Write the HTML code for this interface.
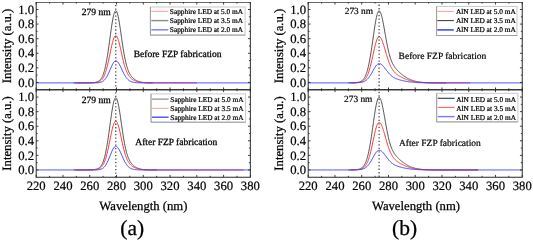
<!DOCTYPE html>
<html><head><meta charset="utf-8"><title>Spectra</title><style>html,body{margin:0;padding:0;background:#fff;width:533px;height:242px;overflow:hidden}svg{display:block;position:absolute;left:0;top:0;will-change:transform}</style></head>
<body>
<svg xmlns="http://www.w3.org/2000/svg" width="533" height="242" viewBox="0 0 533 242" text-rendering="geometricPrecision" font-family="Liberation Serif" fill="#000">
<rect width="533" height="242" fill="#fff"/>
<defs><filter id="bl" x="0" y="0" width="1" height="1"><feGaussianBlur stdDeviation="0.35"/></filter></defs>
<g filter="url(#bl)">
<polyline points="73.68,82.89 74.01,82.89 74.35,82.89 74.68,82.89 75.01,82.89 75.35,82.89 75.68,82.89 76.02,82.89 76.35,82.89 76.69,82.89 77.02,82.89 77.36,82.89 77.69,82.89 78.03,82.89 78.36,82.89 78.70,82.89 79.03,82.89 79.36,82.89 79.70,82.89 80.03,82.89 80.37,82.89 80.70,82.89 81.04,82.89 81.37,82.89 81.71,82.89 82.04,82.88 82.38,82.88 82.71,82.88 83.05,82.88 83.38,82.88 83.71,82.88 84.05,82.88 84.38,82.87 84.72,82.87 85.05,82.87 85.39,82.87 85.72,82.86 86.06,82.86 86.39,82.86 86.73,82.85 87.06,82.85 87.40,82.84 87.73,82.84 88.06,82.83 88.40,82.82 88.73,82.82 89.07,82.81 89.40,82.80 89.74,82.79 90.07,82.78 90.41,82.77 90.74,82.75 91.08,82.74 91.41,82.72 91.75,82.70 92.08,82.68 92.41,82.66 92.75,82.64 93.08,82.61 93.42,82.58 93.75,82.55 94.09,82.51 94.42,82.47 94.76,82.42 95.09,82.37 95.43,82.31 95.76,82.24 96.10,82.16 96.43,82.08 96.76,81.98 97.10,81.88 97.43,81.75 97.77,81.61 98.10,81.46 98.44,81.28 98.77,81.08 99.11,80.85 99.44,80.60 99.78,80.31 100.11,79.99 100.44,79.63 100.78,79.22 101.11,78.77 101.45,78.26 101.78,77.70 102.12,77.08 102.45,76.39 102.79,75.63 103.12,74.79 103.46,73.87 103.79,72.87 104.13,71.78 104.46,70.60 104.79,69.32 105.13,67.94 105.46,66.47 105.80,64.89 106.13,63.21 106.47,61.43 106.80,59.56 107.14,57.59 107.47,55.52 107.81,53.38 108.14,51.16 108.48,48.87 108.81,46.52 109.14,44.13 109.48,41.70 109.81,39.25 110.15,36.80 110.48,34.36 110.82,31.95 111.15,29.58 111.49,27.28 111.82,25.06 112.16,22.94 112.49,20.94 112.83,19.08 113.16,17.36 113.49,15.81 113.83,14.45 114.16,13.28 114.50,12.31 114.83,11.56 115.17,11.04 115.50,10.74 115.84,10.67 116.17,10.83 116.51,11.23 116.84,11.87 117.18,12.72 117.51,13.79 117.84,15.06 118.18,16.51 118.51,18.14 118.85,19.92 119.18,21.84 119.52,23.88 119.85,26.02 120.19,28.23 120.52,30.50 120.86,32.81 121.19,35.14 121.53,37.47 121.86,39.79 122.19,42.08 122.53,44.33 122.86,46.53 123.20,48.66 123.53,50.72 123.87,52.70 124.20,54.60 124.54,56.41 124.87,58.13 125.21,59.75 125.54,61.29 125.88,62.73 126.21,64.08 126.54,65.34 126.88,66.52 127.21,67.62 127.55,68.65 127.88,69.60 128.22,70.49 128.55,71.31 128.89,72.07 129.22,72.78 129.56,73.44 129.89,74.05 130.23,74.62 130.56,75.15 130.89,75.64 131.23,76.10 131.56,76.53 131.90,76.93 132.23,77.31 132.57,77.67 132.90,78.00 133.24,78.31 133.57,78.61 133.91,78.89 134.24,79.15 134.58,79.39 134.91,79.63 135.24,79.85 135.58,80.05 135.91,80.25 136.25,80.43 136.58,80.60 136.92,80.77 137.25,80.92 137.59,81.06 137.92,81.20 138.26,81.32 138.59,81.44 138.93,81.55 139.26,81.66 139.59,81.76 139.93,81.85 140.26,81.93 140.60,82.01 140.93,82.08 141.27,82.15 141.60,82.21 141.94,82.27 142.27,82.33 142.61,82.38 142.94,82.42 143.27,82.46 143.61,82.50 143.94,82.54 144.28,82.57 144.61,82.60 144.95,82.63 145.28,82.66 145.62,82.68 145.95,82.70 146.29,82.72 146.62,82.74 146.96,82.75 147.29,82.77 147.62,82.78 147.96,82.79 148.29,82.80 148.63,82.81 148.96,82.82 149.30,82.83 149.63,82.83 149.97,82.84 150.30,82.85 150.64,82.85 150.97,82.86 151.31,82.86 151.64,82.86 151.97,82.87 152.31,82.87 152.64,82.87" fill="none" stroke="#484848" stroke-width="0.95" stroke-linejoin="round"/>
<polyline points="76.35,82.89 76.69,82.89 77.02,82.89 77.36,82.89 77.69,82.89 78.03,82.89 78.36,82.89 78.70,82.89 79.03,82.89 79.36,82.89 79.70,82.89 80.03,82.89 80.37,82.89 80.70,82.89 81.04,82.89 81.37,82.89 81.71,82.89 82.04,82.89 82.38,82.89 82.71,82.89 83.05,82.89 83.38,82.88 83.71,82.88 84.05,82.88 84.38,82.88 84.72,82.88 85.05,82.88 85.39,82.88 85.72,82.88 86.06,82.87 86.39,82.87 86.73,82.87 87.06,82.87 87.40,82.86 87.73,82.86 88.06,82.86 88.40,82.85 88.73,82.85 89.07,82.84 89.40,82.84 89.74,82.83 90.07,82.82 90.41,82.82 90.74,82.81 91.08,82.80 91.41,82.79 91.75,82.78 92.08,82.77 92.41,82.75 92.75,82.74 93.08,82.72 93.42,82.71 93.75,82.69 94.09,82.66 94.42,82.64 94.76,82.61 95.09,82.58 95.43,82.54 95.76,82.50 96.10,82.46 96.43,82.41 96.76,82.35 97.10,82.28 97.43,82.21 97.77,82.13 98.10,82.03 98.44,81.92 98.77,81.80 99.11,81.66 99.44,81.51 99.78,81.33 100.11,81.13 100.44,80.91 100.78,80.66 101.11,80.38 101.45,80.06 101.78,79.71 102.12,79.32 102.45,78.89 102.79,78.41 103.12,77.88 103.46,77.29 103.79,76.66 104.13,75.96 104.46,75.21 104.79,74.39 105.13,73.50 105.46,72.55 105.80,71.53 106.13,70.44 106.47,69.29 106.80,68.07 107.14,66.78 107.47,65.44 107.81,64.04 108.14,62.58 108.48,61.08 108.81,59.53 109.14,57.95 109.48,56.35 109.81,54.73 110.15,53.11 110.48,51.49 110.82,49.89 111.15,48.32 111.49,46.79 111.82,45.31 112.16,43.90 112.49,42.56 112.83,41.32 113.16,40.17 113.49,39.14 113.83,38.22 114.16,37.44 114.50,36.79 114.83,36.29 115.17,35.94 115.50,35.74 115.84,35.69 116.17,35.80 116.51,36.06 116.84,36.47 117.18,37.03 117.51,37.73 117.84,38.56 118.18,39.51 118.51,40.58 118.85,41.74 119.18,43.00 119.52,44.33 119.85,45.72 120.19,47.17 120.52,48.65 120.86,50.16 121.19,51.68 121.53,53.21 121.86,54.72 122.19,56.22 122.53,57.69 122.86,59.13 123.20,60.52 123.53,61.87 123.87,63.16 124.20,64.40 124.54,65.58 124.87,66.71 125.21,67.77 125.54,68.77 125.88,69.71 126.21,70.60 126.54,71.42 126.88,72.19 127.21,72.91 127.55,73.58 127.88,74.21 128.22,74.78 128.55,75.32 128.89,75.82 129.22,76.28 129.56,76.71 129.89,77.11 130.23,77.48 130.56,77.83 130.89,78.15 131.23,78.45 131.56,78.74 131.90,79.00 132.23,79.25 132.57,79.48 132.90,79.70 133.24,79.90 133.57,80.09 133.91,80.27 134.24,80.44 134.58,80.61 134.91,80.76 135.24,80.90 135.58,81.04 135.91,81.16 136.25,81.28 136.58,81.40 136.92,81.50 137.25,81.60 137.59,81.70 137.92,81.78 138.26,81.87 138.59,81.95 138.93,82.02 139.26,82.09 139.59,82.15 139.93,82.21 140.26,82.26 140.60,82.32 140.93,82.36 141.27,82.41 141.60,82.45 141.94,82.49 142.27,82.52 142.61,82.55 142.94,82.58 143.27,82.61 143.61,82.64 143.94,82.66 144.28,82.68 144.61,82.70 144.95,82.72 145.28,82.74 145.62,82.75 145.95,82.77 146.29,82.78 146.62,82.79 146.96,82.80 147.29,82.81 147.62,82.82 147.96,82.83 148.29,82.83 148.63,82.84 148.96,82.84 149.30,82.85 149.63,82.85 149.97,82.86 150.30,82.86 150.64,82.87 150.97,82.87 151.31,82.87 151.64,82.87 151.97,82.88 152.31,82.88 152.64,82.88 152.98,82.88 153.31,82.88 153.65,82.88 153.98,82.88 154.32,82.89 154.65,82.89 154.99,82.89 155.32,82.89 155.66,82.89 155.99,82.89 156.32,82.89 156.66,82.89 156.99,82.89 157.33,82.89 157.66,82.89 158.00,82.89 158.33,82.89 158.67,82.89 159.00,82.89 159.34,82.89 159.67,82.89 160.01,82.89 160.34,82.89 160.67,82.89 161.01,82.89 161.34,82.89 161.68,82.89 162.01,82.89 162.35,82.89 162.68,82.89 163.02,82.89 163.35,82.89 163.69,82.89 164.02,82.89 164.36,82.89 164.69,82.89 165.02,82.89 165.36,82.89 165.69,82.89 166.03,82.89 166.36,82.89 166.70,82.89 167.03,82.89 167.37,82.89 167.70,82.89 168.04,82.89 168.37,82.89 168.71,82.89 169.04,82.89 169.37,82.89 169.71,82.89 170.04,82.89 170.38,82.89 170.71,82.89 171.05,82.89 171.38,82.89 171.72,82.89 172.05,82.89 172.39,82.89 172.72,82.89 173.06,82.89 173.39,82.89 173.72,82.89 174.06,82.89 174.39,82.89 174.73,82.89 175.06,82.89 175.40,82.89 175.73,82.89 176.07,82.89 176.40,82.89 176.74,82.89 177.07,82.89 177.41,82.89 177.74,82.89 178.07,82.89 178.41,82.89 178.74,82.89 179.08,82.89 179.41,82.89 179.75,82.89 180.08,82.89 180.42,82.89 180.75,82.89 181.09,82.89 181.42,82.89 181.76,82.89 182.09,82.89 182.42,82.89 182.76,82.89 183.09,82.89 183.43,82.89 183.76,82.89 184.10,82.89 184.43,82.89 184.77,82.89 185.10,82.89 185.44,82.89 185.77,82.89 186.10,82.89 186.44,82.89 186.77,82.89 187.11,82.89 187.44,82.89 187.78,82.89 188.11,82.89 188.45,82.89 188.78,82.89 189.12,82.89 189.45,82.89 189.79,82.89 190.12,82.89 190.45,82.89 190.79,82.89 191.12,82.89 191.46,82.89 191.79,82.89 192.13,82.89 192.46,82.89 192.80,82.89 193.13,82.89 193.47,82.89 193.80,82.89 194.14,82.89 194.47,82.89 194.80,82.89 195.14,82.89 195.47,82.89 195.81,82.89 196.14,82.89 196.48,82.89 196.81,82.89" fill="none" stroke="#ff3030" stroke-width="1.0" stroke-linejoin="round"/>
<polyline points="36.20,82.89 36.53,82.89 36.87,82.89 37.20,82.89 37.54,82.89 37.87,82.89 38.21,82.89 38.54,82.89 38.88,82.89 39.21,82.89 39.55,82.89 39.88,82.89 40.22,82.89 40.55,82.89 40.88,82.89 41.22,82.89 41.55,82.89 41.89,82.89 42.22,82.89 42.56,82.89 42.89,82.89 43.23,82.89 43.56,82.89 43.90,82.89 44.23,82.89 44.57,82.89 44.90,82.89 45.23,82.89 45.57,82.89 45.90,82.89 46.24,82.89 46.57,82.89 46.91,82.89 47.24,82.89 47.58,82.89 47.91,82.89 48.25,82.89 48.58,82.89 48.92,82.89 49.25,82.89 49.58,82.89 49.92,82.89 50.25,82.89 50.59,82.89 50.92,82.89 51.26,82.89 51.59,82.89 51.93,82.89 52.26,82.89 52.60,82.89 52.93,82.89 53.27,82.89 53.60,82.89 53.93,82.89 54.27,82.89 54.60,82.89 54.94,82.89 55.27,82.89 55.61,82.89 55.94,82.89 56.28,82.89 56.61,82.89 56.95,82.89 57.28,82.89 57.62,82.89 57.95,82.89 58.28,82.89 58.62,82.89 58.95,82.89 59.29,82.89 59.62,82.89 59.96,82.89 60.29,82.89 60.63,82.89 60.96,82.89 61.30,82.89 61.63,82.89 61.96,82.89 62.30,82.89 62.63,82.89 62.97,82.89 63.30,82.89 63.64,82.89 63.97,82.89 64.31,82.89 64.64,82.89 64.98,82.89 65.31,82.89 65.65,82.89 65.98,82.89 66.31,82.89 66.65,82.89 66.98,82.89 67.32,82.89 67.65,82.89 67.99,82.89 68.32,82.89 68.66,82.89 68.99,82.89 69.33,82.89 69.66,82.89 70.00,82.89 70.33,82.89 70.66,82.89 71.00,82.89 71.33,82.89 71.67,82.89 72.00,82.89 72.34,82.89 72.67,82.89 73.01,82.89 73.34,82.89 73.68,82.89 74.01,82.89 74.35,82.89 74.68,82.89 75.01,82.89 75.35,82.89 75.68,82.89 76.02,82.89 76.35,82.89 76.69,82.89 77.02,82.89 77.36,82.89 77.69,82.89 78.03,82.89 78.36,82.89 78.70,82.89 79.03,82.89 79.36,82.89 79.70,82.89 80.03,82.89 80.37,82.89 80.70,82.89 81.04,82.89 81.37,82.89 81.71,82.89 82.04,82.89 82.38,82.89 82.71,82.89 83.05,82.89 83.38,82.89 83.71,82.89 84.05,82.89 84.38,82.89 84.72,82.89 85.05,82.89 85.39,82.89 85.72,82.89 86.06,82.89 86.39,82.89 86.73,82.89 87.06,82.89 87.40,82.89 87.73,82.89 88.06,82.89 88.40,82.89 88.73,82.89 89.07,82.89 89.40,82.89 89.74,82.89 90.07,82.89 90.41,82.89 90.74,82.89 91.08,82.89 91.41,82.89 91.75,82.89 92.08,82.89 92.41,82.89 92.75,82.89 93.08,82.89 93.42,82.88 93.75,82.88 94.09,82.88 94.42,82.88 94.76,82.87 95.09,82.87 95.43,82.86 95.76,82.85 96.10,82.84 96.43,82.83 96.76,82.82 97.10,82.80 97.43,82.78 97.77,82.76 98.10,82.73 98.44,82.70 98.77,82.66 99.11,82.62 99.44,82.56 99.78,82.50 100.11,82.43 100.44,82.35 100.78,82.26 101.11,82.15 101.45,82.03 101.78,81.89 102.12,81.73 102.45,81.55 102.79,81.35 103.12,81.13 103.46,80.88 103.79,80.61 104.13,80.30 104.46,79.97 104.79,79.61 105.13,79.21 105.46,78.78 105.80,78.32 106.13,77.82 106.47,77.29 106.80,76.72 107.14,76.12 107.47,75.49 107.81,74.83 108.14,74.14 108.48,73.42 108.81,72.68 109.14,71.93 109.48,71.15 109.81,70.37 110.15,69.58 110.48,68.80 110.82,68.02 111.15,67.25 111.49,66.50 111.82,65.77 112.16,65.07 112.49,64.41 112.83,63.80 113.16,63.23 113.49,62.72 113.83,62.26 114.16,61.88 114.50,61.55 114.83,61.30 115.17,61.13 115.50,61.03 115.84,61.01 116.17,61.05 116.51,61.16 116.84,61.33 117.18,61.57 117.51,61.86 117.84,62.22 118.18,62.62 118.51,63.08 118.85,63.58 119.18,64.13 119.52,64.71 119.85,65.33 120.19,65.97 120.52,66.64 120.86,67.32 121.19,68.02 121.53,68.73 121.86,69.44 122.19,70.15 122.53,70.86 122.86,71.56 123.20,72.24 123.53,72.91 123.87,73.57 124.20,74.20 124.54,74.81 124.87,75.40 125.21,75.96 125.54,76.49 125.88,77.00 126.21,77.48 126.54,77.93 126.88,78.35 127.21,78.74 127.55,79.11 127.88,79.45 128.22,79.77 128.55,80.06 128.89,80.33 129.22,80.57 129.56,80.80 129.89,81.00 130.23,81.19 130.56,81.36 130.89,81.51 131.23,81.65 131.56,81.78 131.90,81.89 132.23,81.99 132.57,82.08 132.90,82.17 133.24,82.24 133.57,82.31 133.91,82.36 134.24,82.42 134.58,82.47 134.91,82.51 135.24,82.55 135.58,82.58 135.91,82.61 136.25,82.64 136.58,82.66 136.92,82.68 137.25,82.70 137.59,82.72 137.92,82.74 138.26,82.75 138.59,82.77 138.93,82.78 139.26,82.79 139.59,82.80 139.93,82.81 140.26,82.82 140.60,82.82 140.93,82.83 141.27,82.84 141.60,82.84 141.94,82.85 142.27,82.85 142.61,82.85 142.94,82.86 143.27,82.86 143.61,82.87 143.94,82.87 144.28,82.87 144.61,82.87 144.95,82.87 145.28,82.88 145.62,82.88 145.95,82.88 146.29,82.88 146.62,82.88 146.96,82.88 147.29,82.88 147.62,82.89 147.96,82.89 148.29,82.89 148.63,82.89 148.96,82.89 149.30,82.89 149.63,82.89 149.97,82.89 150.30,82.89 150.64,82.89 150.97,82.89 151.31,82.89 151.64,82.89 151.97,82.89 152.31,82.89 152.64,82.89 152.98,82.89 153.31,82.89 153.65,82.89 153.98,82.89 154.32,82.89 154.65,82.89 154.99,82.89 155.32,82.89 155.66,82.89 155.99,82.89 156.32,82.89 156.66,82.89 156.99,82.89 157.33,82.89 157.66,82.89 158.00,82.89 158.33,82.89 158.67,82.89 159.00,82.89 159.34,82.89 159.67,82.89 160.01,82.89 160.34,82.89 160.67,82.89 161.01,82.89 161.34,82.89 161.68,82.89 162.01,82.89 162.35,82.89 162.68,82.89 163.02,82.89 163.35,82.89 163.69,82.89 164.02,82.89 164.36,82.89 164.69,82.89 165.02,82.89 165.36,82.89 165.69,82.89 166.03,82.89 166.36,82.89 166.70,82.89 167.03,82.89 167.37,82.89 167.70,82.89 168.04,82.89 168.37,82.89 168.71,82.89 169.04,82.89 169.37,82.89 169.71,82.89 170.04,82.89 170.38,82.89 170.71,82.89 171.05,82.89 171.38,82.89 171.72,82.89 172.05,82.89 172.39,82.89 172.72,82.89 173.06,82.89 173.39,82.89 173.72,82.89 174.06,82.89 174.39,82.89 174.73,82.89 175.06,82.89 175.40,82.89 175.73,82.89 176.07,82.89 176.40,82.89 176.74,82.89 177.07,82.89 177.41,82.89 177.74,82.89 178.07,82.89 178.41,82.89 178.74,82.89 179.08,82.89 179.41,82.89 179.75,82.89 180.08,82.89 180.42,82.89 180.75,82.89 181.09,82.89 181.42,82.89 181.76,82.89 182.09,82.89 182.42,82.89 182.76,82.89 183.09,82.89 183.43,82.89 183.76,82.89 184.10,82.89 184.43,82.89 184.77,82.89 185.10,82.89 185.44,82.89 185.77,82.89 186.10,82.89 186.44,82.89 186.77,82.89 187.11,82.89 187.44,82.89 187.78,82.89 188.11,82.89 188.45,82.89 188.78,82.89 189.12,82.89 189.45,82.89 189.79,82.89 190.12,82.89 190.45,82.89 190.79,82.89 191.12,82.89 191.46,82.89 191.79,82.89 192.13,82.89 192.46,82.89 192.80,82.89 193.13,82.89 193.47,82.89 193.80,82.89 194.14,82.89 194.47,82.89 194.80,82.89 195.14,82.89 195.47,82.89 195.81,82.89 196.14,82.89 196.48,82.89 196.81,82.89 197.15,82.89 197.48,82.89 197.82,82.89 198.15,82.89 198.49,82.89 198.82,82.89 199.15,82.89 199.49,82.89 199.82,82.89 200.16,82.89 200.49,82.89 200.83,82.89 201.16,82.89 201.50,82.89 201.83,82.89 202.17,82.89 202.50,82.89 202.84,82.89 203.17,82.89 203.50,82.89 203.84,82.89 204.17,82.89 204.51,82.89 204.84,82.89 205.18,82.89 205.51,82.89 205.85,82.89 206.18,82.89 206.52,82.89 206.85,82.89 207.19,82.89 207.52,82.89 207.85,82.89 208.19,82.89 208.52,82.89 208.86,82.89 209.19,82.89 209.53,82.89 209.86,82.89 210.20,82.89 210.53,82.89 210.87,82.89 211.20,82.89 211.54,82.89 211.87,82.89 212.20,82.89 212.54,82.89 212.87,82.89 213.21,82.89 213.54,82.89 213.88,82.89 214.21,82.89 214.55,82.89 214.88,82.89 215.22,82.89 215.55,82.89 215.89,82.89 216.22,82.89 216.55,82.89 216.89,82.89 217.22,82.89 217.56,82.89 217.89,82.89 218.23,82.89 218.56,82.89 218.90,82.89 219.23,82.89 219.57,82.89 219.90,82.89 220.24,82.89 220.57,82.89 220.90,82.89 221.24,82.89 221.57,82.89 221.91,82.89 222.24,82.89 222.58,82.89 222.91,82.89 223.25,82.89 223.58,82.89 223.92,82.89 224.25,82.89 224.59,82.89 224.92,82.89 225.25,82.89 225.59,82.89 225.92,82.89 226.26,82.89 226.59,82.89 226.93,82.89 227.26,82.89 227.60,82.89 227.93,82.89 228.27,82.89 228.60,82.89 228.94,82.89 229.27,82.89 229.60,82.89 229.94,82.89 230.27,82.89 230.61,82.89 230.94,82.89 231.28,82.89 231.61,82.89 231.95,82.89 232.28,82.89 232.62,82.89 232.95,82.89 233.28,82.89 233.62,82.89 233.95,82.89 234.29,82.89 234.62,82.89 234.96,82.89 235.29,82.89 235.63,82.89 235.96,82.89 236.30,82.89 236.63,82.89 236.97,82.89 237.30,82.89 237.63,82.89 237.97,82.89 238.30,82.89 238.64,82.89 238.97,82.89 239.31,82.89 239.64,82.89 239.98,82.89 240.31,82.89 240.65,82.89 240.98,82.89 241.32,82.89 241.65,82.89 241.98,82.89 242.32,82.89 242.65,82.89 242.99,82.89 243.32,82.89 243.66,82.89 243.99,82.89 244.33,82.89 244.66,82.89 245.00,82.89 245.33,82.89 245.67,82.89 246.00,82.89 246.33,82.89 246.67,82.89 247.00,82.89 247.34,82.89 247.67,82.89 248.01,82.89 248.34,82.89 248.68,82.89 249.01,82.89 249.35,82.89 249.68,82.89 250.02,82.89 250.35,82.89" fill="none" stroke="#3434ff" stroke-width="1.0" stroke-linejoin="round"/>
<line x1="115.77" y1="2.20" x2="115.77" y2="177.25" stroke="#505050" stroke-width="1.35" stroke-dasharray="1.3 2.19" stroke-dashoffset="0.75"/>
<rect x="36.2" y="2.2" width="214.15" height="87.55" fill="none" stroke="#2a2a2a" stroke-width="1.0"/>
<text x="34.00" y="86.60" font-size="12.7" text-anchor="end" stroke="#000" stroke-width="0.2">0.0</text>
<text x="34.00" y="72.01" font-size="12.7" text-anchor="end" stroke="#000" stroke-width="0.2">0.2</text>
<text x="34.00" y="57.42" font-size="12.7" text-anchor="end" stroke="#000" stroke-width="0.2">0.4</text>
<text x="34.00" y="42.83" font-size="12.7" text-anchor="end" stroke="#000" stroke-width="0.2">0.6</text>
<text x="34.00" y="28.24" font-size="12.7" text-anchor="end" stroke="#000" stroke-width="0.2">0.8</text>
<text x="34.00" y="13.65" font-size="12.7" text-anchor="end" stroke="#000" stroke-width="0.2">1.0</text>
<path d="M36.20,82.45h2.3M250.35,82.45h-2.3M36.20,75.16h1.4M250.35,75.16h-1.4M36.20,67.86h2.3M250.35,67.86h-2.3M36.20,60.57h1.4M250.35,60.57h-1.4M36.20,53.27h2.3M250.35,53.27h-2.3M36.20,45.98h1.4M250.35,45.98h-1.4M36.20,38.68h2.3M250.35,38.68h-2.3M36.20,31.38h1.4M250.35,31.38h-1.4M36.20,24.09h2.3M250.35,24.09h-2.3M36.20,16.79h1.4M250.35,16.79h-1.4M36.20,9.50h2.3M250.35,9.50h-2.3M36.20,89.75v-2.3M36.20,2.20v2.3M49.58,89.75v-1.4M49.58,2.20v1.4M62.97,89.75v-2.3M62.97,2.20v2.3M76.35,89.75v-1.4M76.35,2.20v1.4M89.74,89.75v-2.3M89.74,2.20v2.3M103.12,89.75v-1.4M103.12,2.20v1.4M116.51,89.75v-2.3M116.51,2.20v2.3M129.89,89.75v-1.4M129.89,2.20v1.4M143.27,89.75v-2.3M143.27,2.20v2.3M156.66,89.75v-1.4M156.66,2.20v1.4M170.04,89.75v-2.3M170.04,2.20v2.3M183.43,89.75v-1.4M183.43,2.20v1.4M196.81,89.75v-2.3M196.81,2.20v2.3M210.20,89.75v-1.4M210.20,2.20v1.4M223.58,89.75v-2.3M223.58,2.20v2.3M236.97,89.75v-1.4M236.97,2.20v1.4M250.35,89.75v-2.3M250.35,2.20v2.3" stroke="#2a2a2a" stroke-width="0.9" fill="none"/>
<text x="81.70" y="15.00" font-size="9.6" stroke="#000" stroke-width="0.28">279 nm</text>
<rect x="150.4" y="7.0" width="94.70" height="28.10" fill="#fff" stroke="#c4c4c4" stroke-width="0.9"/>
<path d="M150.4,7.0V35.1H245.1" fill="none" stroke="#999" stroke-width="0.9"/>
<line x1="151.30" y1="11.30" x2="168.30" y2="11.30" stroke="#ff9999" stroke-width="1.0"/>
<text x="169.80" y="13.80" font-size="7.35" stroke="#000" stroke-width="0.22">Sapphire LED at 5.0 mA</text>
<line x1="151.30" y1="20.60" x2="168.30" y2="20.60" stroke="#8c8c8c" stroke-width="1.4"/>
<text x="169.80" y="23.10" font-size="7.35" stroke="#000" stroke-width="0.22">Sapphire LED at 3.5 mA</text>
<line x1="151.30" y1="29.80" x2="168.30" y2="29.80" stroke="#8080ff" stroke-width="1.5"/>
<text x="169.80" y="32.30" font-size="7.35" stroke="#000" stroke-width="0.22">Sapphire LED at 2.0 mA</text>
<text x="133.70" y="56.60" font-size="9.5" stroke="#000" stroke-width="0.28">Before FZP fabrication</text>
<text transform="translate(11.10,45.98) rotate(-90)" x="0" y="0" font-size="12.7" text-anchor="middle" stroke="#000" stroke-width="0.25">Intensity (a.u.)</text>
<polyline points="73.68,169.96 74.01,169.96 74.35,169.96 74.68,169.96 75.01,169.96 75.35,169.96 75.68,169.96 76.02,169.96 76.35,169.96 76.69,169.96 77.02,169.96 77.36,169.96 77.69,169.96 78.03,169.96 78.36,169.96 78.70,169.96 79.03,169.96 79.36,169.96 79.70,169.96 80.03,169.95 80.37,169.95 80.70,169.95 81.04,169.95 81.37,169.95 81.71,169.95 82.04,169.95 82.38,169.95 82.71,169.95 83.05,169.95 83.38,169.95 83.71,169.94 84.05,169.94 84.38,169.94 84.72,169.94 85.05,169.94 85.39,169.93 85.72,169.93 86.06,169.93 86.39,169.92 86.73,169.92 87.06,169.91 87.40,169.91 87.73,169.90 88.06,169.90 88.40,169.89 88.73,169.88 89.07,169.87 89.40,169.87 89.74,169.86 90.07,169.84 90.41,169.83 90.74,169.82 91.08,169.80 91.41,169.79 91.75,169.77 92.08,169.75 92.41,169.73 92.75,169.70 93.08,169.68 93.42,169.65 93.75,169.61 94.09,169.57 94.42,169.53 94.76,169.49 95.09,169.43 95.43,169.37 95.76,169.31 96.10,169.23 96.43,169.15 96.76,169.05 97.10,168.94 97.43,168.82 97.77,168.68 98.10,168.53 98.44,168.35 98.77,168.15 99.11,167.92 99.44,167.67 99.78,167.38 100.11,167.06 100.44,166.70 100.78,166.29 101.11,165.84 101.45,165.33 101.78,164.77 102.12,164.15 102.45,163.46 102.79,162.70 103.12,161.86 103.46,160.94 103.79,159.94 104.13,158.85 104.46,157.67 104.79,156.39 105.13,155.02 105.46,153.54 105.80,151.97 106.13,150.29 106.47,148.51 106.80,146.64 107.14,144.67 107.47,142.61 107.81,140.46 108.14,138.24 108.48,135.95 108.81,133.61 109.14,131.22 109.48,128.79 109.81,126.35 110.15,123.90 110.48,121.46 110.82,119.05 111.15,116.68 111.49,114.38 111.82,112.16 112.16,110.04 112.49,108.04 112.83,106.18 113.16,104.46 113.49,102.92 113.83,101.55 114.16,100.38 114.50,99.42 114.83,98.67 115.17,98.14 115.50,97.84 115.84,97.78 116.17,97.94 116.51,98.34 116.84,98.97 117.18,99.83 117.51,100.89 117.84,102.16 118.18,103.62 118.51,105.25 118.85,107.03 119.18,108.95 119.52,110.98 119.85,113.11 120.19,115.32 120.52,117.59 120.86,119.90 121.19,122.23 121.53,124.56 121.86,126.88 122.19,129.17 122.53,131.42 122.86,133.61 123.20,135.75 123.53,137.81 123.87,139.79 124.20,141.68 124.54,143.49 124.87,145.21 125.21,146.83 125.54,148.36 125.88,149.80 126.21,151.16 126.54,152.42 126.88,153.60 127.21,154.70 127.55,155.72 127.88,156.67 128.22,157.56 128.55,158.38 128.89,159.14 129.22,159.85 129.56,160.51 129.89,161.12 130.23,161.69 130.56,162.22 130.89,162.71 131.23,163.17 131.56,163.60 131.90,164.00 132.23,164.38 132.57,164.74 132.90,165.07 133.24,165.38 133.57,165.68 133.91,165.95 134.24,166.22 134.58,166.46 134.91,166.69 135.24,166.91 135.58,167.12 135.91,167.31 136.25,167.50 136.58,167.67 136.92,167.83 137.25,167.99 137.59,168.13 137.92,168.27 138.26,168.39 138.59,168.51 138.93,168.62 139.26,168.73 139.59,168.82 139.93,168.91 140.26,169.00 140.60,169.08 140.93,169.15 141.27,169.22 141.60,169.28 141.94,169.34 142.27,169.39 142.61,169.44 142.94,169.49 143.27,169.53 143.61,169.57 143.94,169.61 144.28,169.64 144.61,169.67 144.95,169.70 145.28,169.72 145.62,169.74 145.95,169.77 146.29,169.79 146.62,169.80 146.96,169.82 147.29,169.83 147.62,169.85 147.96,169.86 148.29,169.87 148.63,169.88 148.96,169.89 149.30,169.89 149.63,169.90 149.97,169.91 150.30,169.91 150.64,169.92 150.97,169.92 151.31,169.93 151.64,169.93 151.97,169.93 152.31,169.94 152.64,169.94 152.98,169.94 153.31,169.94 153.65,169.95 153.98,169.95 154.32,169.95 154.65,169.95 154.99,169.95 155.32,169.95 155.66,169.95 155.99,169.95 156.32,169.95 156.66,169.95" fill="none" stroke="#484848" stroke-width="0.95" stroke-linejoin="round"/>
<polyline points="76.35,169.96 76.69,169.96 77.02,169.96 77.36,169.96 77.69,169.96 78.03,169.96 78.36,169.96 78.70,169.96 79.03,169.96 79.36,169.96 79.70,169.96 80.03,169.96 80.37,169.96 80.70,169.96 81.04,169.96 81.37,169.95 81.71,169.95 82.04,169.95 82.38,169.95 82.71,169.95 83.05,169.95 83.38,169.95 83.71,169.95 84.05,169.95 84.38,169.95 84.72,169.95 85.05,169.94 85.39,169.94 85.72,169.94 86.06,169.94 86.39,169.94 86.73,169.93 87.06,169.93 87.40,169.93 87.73,169.92 88.06,169.92 88.40,169.92 88.73,169.91 89.07,169.91 89.40,169.90 89.74,169.90 90.07,169.89 90.41,169.88 90.74,169.87 91.08,169.86 91.41,169.85 91.75,169.84 92.08,169.83 92.41,169.82 92.75,169.80 93.08,169.78 93.42,169.77 93.75,169.74 94.09,169.72 94.42,169.70 94.76,169.67 95.09,169.63 95.43,169.60 95.76,169.56 96.10,169.51 96.43,169.46 96.76,169.40 97.10,169.33 97.43,169.25 97.77,169.17 98.10,169.07 98.44,168.96 98.77,168.83 99.11,168.69 99.44,168.53 99.78,168.34 100.11,168.14 100.44,167.91 100.78,167.65 101.11,167.36 101.45,167.03 101.78,166.67 102.12,166.26 102.45,165.81 102.79,165.31 103.12,164.77 103.46,164.17 103.79,163.51 104.13,162.79 104.46,162.00 104.79,161.15 105.13,160.24 105.46,159.25 105.80,158.20 106.13,157.08 106.47,155.88 106.80,154.62 107.14,153.29 107.47,151.90 107.81,150.44 108.14,148.94 108.48,147.38 108.81,145.78 109.14,144.15 109.48,142.49 109.81,140.82 110.15,139.14 110.48,137.46 110.82,135.80 111.15,134.18 111.49,132.59 111.82,131.06 112.16,129.60 112.49,128.22 112.83,126.93 113.16,125.74 113.49,124.67 113.83,123.73 114.16,122.92 114.50,122.25 114.83,121.73 115.17,121.36 115.50,121.16 115.84,121.11 116.17,121.22 116.51,121.49 116.84,121.92 117.18,122.50 117.51,123.22 117.84,124.08 118.18,125.06 118.51,126.16 118.85,127.37 119.18,128.67 119.52,130.04 119.85,131.49 120.19,132.98 120.52,134.52 120.86,136.08 121.19,137.66 121.53,139.23 121.86,140.80 122.19,142.35 122.53,143.88 122.86,145.36 123.20,146.80 123.53,148.20 123.87,149.54 124.20,150.82 124.54,152.05 124.87,153.21 125.21,154.31 125.54,155.34 125.88,156.32 126.21,157.23 126.54,158.09 126.88,158.89 127.21,159.63 127.55,160.32 127.88,160.97 128.22,161.57 128.55,162.12 128.89,162.64 129.22,163.12 129.56,163.56 129.89,163.98 130.23,164.36 130.56,164.72 130.89,165.05 131.23,165.36 131.56,165.66 131.90,165.93 132.23,166.18 132.57,166.42 132.90,166.65 133.24,166.86 133.57,167.06 133.91,167.25 134.24,167.43 134.58,167.59 134.91,167.75 135.24,167.90 135.58,168.04 135.91,168.17 136.25,168.29 136.58,168.41 136.92,168.52 137.25,168.62 137.59,168.72 137.92,168.81 138.26,168.90 138.59,168.98 138.93,169.05 139.26,169.12 139.59,169.19 139.93,169.25 140.26,169.31 140.60,169.36 140.93,169.41 141.27,169.46 141.60,169.50 141.94,169.54 142.27,169.58 142.61,169.61 142.94,169.64 143.27,169.67 143.61,169.70 143.94,169.72 144.28,169.74 144.61,169.76 144.95,169.78 145.28,169.80 145.62,169.81 145.95,169.83 146.29,169.84 146.62,169.85 146.96,169.86 147.29,169.87 147.62,169.88 147.96,169.89 148.29,169.90 148.63,169.90 148.96,169.91 149.30,169.92 149.63,169.92 149.97,169.92 150.30,169.93 150.64,169.93 150.97,169.93 151.31,169.94 151.64,169.94 151.97,169.94 152.31,169.94 152.64,169.95 152.98,169.95 153.31,169.95 153.65,169.95 153.98,169.95 154.32,169.95 154.65,169.95 154.99,169.95 155.32,169.95 155.66,169.95 155.99,169.95 156.32,169.96 156.66,169.96 156.99,169.96 157.33,169.96 157.66,169.96 158.00,169.96 158.33,169.96 158.67,169.96 159.00,169.96 159.34,169.96 159.67,169.96 160.01,169.96 160.34,169.96 160.67,169.96 161.01,169.96 161.34,169.96 161.68,169.96 162.01,169.96 162.35,169.96 162.68,169.96 163.02,169.96 163.35,169.96 163.69,169.96 164.02,169.96 164.36,169.96 164.69,169.96 165.02,169.96 165.36,169.96 165.69,169.96 166.03,169.96 166.36,169.96 166.70,169.96 167.03,169.96 167.37,169.96 167.70,169.96 168.04,169.96 168.37,169.96 168.71,169.96 169.04,169.96 169.37,169.96 169.71,169.96 170.04,169.96 170.38,169.96 170.71,169.96 171.05,169.96 171.38,169.96 171.72,169.96 172.05,169.96 172.39,169.96 172.72,169.96 173.06,169.96 173.39,169.96 173.72,169.96 174.06,169.96 174.39,169.96 174.73,169.96 175.06,169.96 175.40,169.96 175.73,169.96 176.07,169.96 176.40,169.96 176.74,169.96 177.07,169.96 177.41,169.96 177.74,169.96 178.07,169.96 178.41,169.96 178.74,169.96 179.08,169.96 179.41,169.96 179.75,169.96 180.08,169.96 180.42,169.96 180.75,169.96 181.09,169.96 181.42,169.96 181.76,169.96 182.09,169.96 182.42,169.96 182.76,169.96 183.09,169.96 183.43,169.96 183.76,169.96 184.10,169.96 184.43,169.96 184.77,169.96 185.10,169.96 185.44,169.96 185.77,169.96 186.10,169.96 186.44,169.96 186.77,169.96 187.11,169.96 187.44,169.96 187.78,169.96 188.11,169.96 188.45,169.96 188.78,169.96 189.12,169.96 189.45,169.96 189.79,169.96 190.12,169.96 190.45,169.96 190.79,169.96 191.12,169.96 191.46,169.96 191.79,169.96 192.13,169.96 192.46,169.96 192.80,169.96 193.13,169.96 193.47,169.96 193.80,169.96 194.14,169.96 194.47,169.96 194.80,169.96 195.14,169.96 195.47,169.96 195.81,169.96 196.14,169.96 196.48,169.96 196.81,169.96 197.15,169.96 197.48,169.96 197.82,169.96 198.15,169.96 198.49,169.96 198.82,169.96 199.15,169.96 199.49,169.96 199.82,169.96 200.16,169.96 200.49,169.96 200.83,169.96 201.16,169.96 201.50,169.96 201.83,169.96 202.17,169.96 202.50,169.96 202.84,169.96 203.17,169.96 203.50,169.96 203.84,169.96 204.17,169.96 204.51,169.96 204.84,169.96 205.18,169.96 205.51,169.96 205.85,169.96 206.18,169.96 206.52,169.96 206.85,169.96 207.19,169.96 207.52,169.96 207.85,169.96 208.19,169.96 208.52,169.96 208.86,169.96 209.19,169.96 209.53,169.96 209.86,169.96 210.20,169.96 210.53,169.96 210.87,169.96 211.20,169.96 211.54,169.96 211.87,169.96 212.20,169.96 212.54,169.96 212.87,169.96 213.21,169.96 213.54,169.96 213.88,169.96 214.21,169.96 214.55,169.96 214.88,169.96 215.22,169.96 215.55,169.96 215.89,169.96 216.22,169.96 216.55,169.96 216.89,169.96 217.22,169.96 217.56,169.96 217.89,169.96 218.23,169.96 218.56,169.96 218.90,169.96 219.23,169.96 219.57,169.96 219.90,169.96 220.24,169.96 220.57,169.96 220.90,169.96 221.24,169.96 221.57,169.96 221.91,169.96 222.24,169.96 222.58,169.96 222.91,169.96 223.25,169.96 223.58,169.96 223.92,169.96 224.25,169.96 224.59,169.96 224.92,169.96 225.25,169.96 225.59,169.96 225.92,169.96 226.26,169.96 226.59,169.96 226.93,169.96 227.26,169.96 227.60,169.96 227.93,169.96 228.27,169.96 228.60,169.96 228.94,169.96 229.27,169.96 229.60,169.96 229.94,169.96 230.27,169.96 230.61,169.96 230.94,169.96 231.28,169.96 231.61,169.96 231.95,169.96 232.28,169.96 232.62,169.96 232.95,169.96 233.28,169.96 233.62,169.96 233.95,169.96 234.29,169.96 234.62,169.96 234.96,169.96 235.29,169.96 235.63,169.96 235.96,169.96 236.30,169.96 236.63,169.96 236.97,169.96 237.30,169.96 237.63,169.96 237.97,169.96 238.30,169.96 238.64,169.96 238.97,169.96 239.31,169.96 239.64,169.96 239.98,169.96 240.31,169.96 240.65,169.96 240.98,169.96 241.32,169.96 241.65,169.96 241.98,169.96 242.32,169.96 242.65,169.96 242.99,169.96 243.32,169.96 243.66,169.96" fill="none" stroke="#ff3030" stroke-width="1.0" stroke-linejoin="round"/>
<polyline points="36.20,169.96 36.53,169.96 36.87,169.96 37.20,169.96 37.54,169.96 37.87,169.96 38.21,169.96 38.54,169.96 38.88,169.96 39.21,169.96 39.55,169.96 39.88,169.96 40.22,169.96 40.55,169.96 40.88,169.96 41.22,169.96 41.55,169.96 41.89,169.96 42.22,169.96 42.56,169.96 42.89,169.96 43.23,169.96 43.56,169.96 43.90,169.96 44.23,169.96 44.57,169.96 44.90,169.96 45.23,169.96 45.57,169.96 45.90,169.96 46.24,169.96 46.57,169.96 46.91,169.96 47.24,169.96 47.58,169.96 47.91,169.96 48.25,169.96 48.58,169.96 48.92,169.96 49.25,169.96 49.58,169.96 49.92,169.96 50.25,169.96 50.59,169.96 50.92,169.96 51.26,169.96 51.59,169.96 51.93,169.96 52.26,169.96 52.60,169.96 52.93,169.96 53.27,169.96 53.60,169.96 53.93,169.96 54.27,169.96 54.60,169.96 54.94,169.96 55.27,169.96 55.61,169.96 55.94,169.96 56.28,169.96 56.61,169.96 56.95,169.96 57.28,169.96 57.62,169.96 57.95,169.96 58.28,169.96 58.62,169.96 58.95,169.96 59.29,169.96 59.62,169.96 59.96,169.96 60.29,169.96 60.63,169.96 60.96,169.96 61.30,169.96 61.63,169.96 61.96,169.96 62.30,169.96 62.63,169.96 62.97,169.96 63.30,169.96 63.64,169.96 63.97,169.96 64.31,169.96 64.64,169.96 64.98,169.96 65.31,169.96 65.65,169.96 65.98,169.96 66.31,169.96 66.65,169.96 66.98,169.96 67.32,169.96 67.65,169.96 67.99,169.96 68.32,169.96 68.66,169.96 68.99,169.96 69.33,169.96 69.66,169.96 70.00,169.96 70.33,169.96 70.66,169.96 71.00,169.96 71.33,169.96 71.67,169.96 72.00,169.96 72.34,169.96 72.67,169.96 73.01,169.96 73.34,169.96 73.68,169.96 74.01,169.96 74.35,169.96 74.68,169.96 75.01,169.96 75.35,169.96 75.68,169.96 76.02,169.96 76.35,169.96 76.69,169.96 77.02,169.96 77.36,169.96 77.69,169.96 78.03,169.96 78.36,169.96 78.70,169.96 79.03,169.96 79.36,169.96 79.70,169.96 80.03,169.96 80.37,169.96 80.70,169.96 81.04,169.96 81.37,169.96 81.71,169.96 82.04,169.96 82.38,169.96 82.71,169.96 83.05,169.96 83.38,169.96 83.71,169.96 84.05,169.96 84.38,169.96 84.72,169.96 85.05,169.96 85.39,169.96 85.72,169.96 86.06,169.96 86.39,169.96 86.73,169.96 87.06,169.96 87.40,169.96 87.73,169.96 88.06,169.96 88.40,169.96 88.73,169.96 89.07,169.96 89.40,169.96 89.74,169.96 90.07,169.96 90.41,169.96 90.74,169.96 91.08,169.96 91.41,169.96 91.75,169.96 92.08,169.95 92.41,169.95 92.75,169.95 93.08,169.95 93.42,169.95 93.75,169.95 94.09,169.94 94.42,169.94 94.76,169.94 95.09,169.93 95.43,169.92 95.76,169.92 96.10,169.91 96.43,169.89 96.76,169.88 97.10,169.86 97.43,169.84 97.77,169.81 98.10,169.79 98.44,169.75 98.77,169.71 99.11,169.66 99.44,169.60 99.78,169.54 100.11,169.46 100.44,169.37 100.78,169.27 101.11,169.16 101.45,169.02 101.78,168.87 102.12,168.70 102.45,168.51 102.79,168.30 103.12,168.06 103.46,167.79 103.79,167.49 104.13,167.17 104.46,166.81 104.79,166.41 105.13,165.99 105.46,165.52 105.80,165.02 106.13,164.48 106.47,163.91 106.80,163.30 107.14,162.65 107.47,161.97 107.81,161.26 108.14,160.51 108.48,159.74 108.81,158.94 109.14,158.12 109.48,157.29 109.81,156.45 110.15,155.60 110.48,154.75 110.82,153.90 111.15,153.07 111.49,152.26 111.82,151.48 112.16,150.72 112.49,150.01 112.83,149.35 113.16,148.74 113.49,148.18 113.83,147.69 114.16,147.27 114.50,146.93 114.83,146.66 115.17,146.47 115.50,146.36 115.84,146.33 116.17,146.38 116.51,146.50 116.84,146.69 117.18,146.94 117.51,147.26 117.84,147.64 118.18,148.08 118.51,148.57 118.85,149.12 119.18,149.70 119.52,150.33 119.85,151.00 120.19,151.69 120.52,152.41 120.86,153.15 121.19,153.91 121.53,154.67 121.86,155.44 122.19,156.21 122.53,156.97 122.86,157.72 123.20,158.46 123.53,159.19 123.87,159.89 124.20,160.58 124.54,161.24 124.87,161.87 125.21,162.47 125.54,163.05 125.88,163.60 126.21,164.11 126.54,164.60 126.88,165.05 127.21,165.48 127.55,165.88 127.88,166.25 128.22,166.59 128.55,166.90 128.89,167.19 129.22,167.46 129.56,167.70 129.89,167.92 130.23,168.12 130.56,168.30 130.89,168.47 131.23,168.62 131.56,168.76 131.90,168.88 132.23,168.99 132.57,169.09 132.90,169.17 133.24,169.25 133.57,169.33 133.91,169.39 134.24,169.45 134.58,169.50 134.91,169.54 135.24,169.58 135.58,169.62 135.91,169.65 136.25,169.68 136.58,169.71 136.92,169.73 137.25,169.76 137.59,169.78 137.92,169.79 138.26,169.81 138.59,169.82 138.93,169.84 139.26,169.85 139.59,169.86 139.93,169.87 140.26,169.88 140.60,169.88 140.93,169.89 141.27,169.90 141.60,169.90 141.94,169.91 142.27,169.91 142.61,169.92 142.94,169.92 143.27,169.93 143.61,169.93 143.94,169.93 144.28,169.94 144.61,169.94 144.95,169.94 145.28,169.94 145.62,169.94 145.95,169.95 146.29,169.95 146.62,169.95 146.96,169.95 147.29,169.95 147.62,169.95 147.96,169.95 148.29,169.95 148.63,169.95 148.96,169.95 149.30,169.95 149.63,169.95 149.97,169.96 150.30,169.96 150.64,169.96 150.97,169.96 151.31,169.96 151.64,169.96 151.97,169.96 152.31,169.96 152.64,169.96 152.98,169.96 153.31,169.96 153.65,169.96 153.98,169.96 154.32,169.96 154.65,169.96 154.99,169.96 155.32,169.96 155.66,169.96 155.99,169.96 156.32,169.96 156.66,169.96 156.99,169.96 157.33,169.96 157.66,169.96 158.00,169.96 158.33,169.96 158.67,169.96 159.00,169.96 159.34,169.96 159.67,169.96 160.01,169.96 160.34,169.96 160.67,169.96 161.01,169.96 161.34,169.96 161.68,169.96 162.01,169.96 162.35,169.96 162.68,169.96 163.02,169.96 163.35,169.96 163.69,169.96 164.02,169.96 164.36,169.96 164.69,169.96 165.02,169.96 165.36,169.96 165.69,169.96 166.03,169.96 166.36,169.96 166.70,169.96 167.03,169.96 167.37,169.96 167.70,169.96 168.04,169.96 168.37,169.96 168.71,169.96 169.04,169.96 169.37,169.96 169.71,169.96 170.04,169.96 170.38,169.96 170.71,169.96 171.05,169.96 171.38,169.96 171.72,169.96 172.05,169.96 172.39,169.96 172.72,169.96 173.06,169.96 173.39,169.96 173.72,169.96 174.06,169.96 174.39,169.96 174.73,169.96 175.06,169.96 175.40,169.96 175.73,169.96 176.07,169.96 176.40,169.96 176.74,169.96 177.07,169.96 177.41,169.96 177.74,169.96 178.07,169.96 178.41,169.96 178.74,169.96 179.08,169.96 179.41,169.96 179.75,169.96 180.08,169.96 180.42,169.96 180.75,169.96 181.09,169.96 181.42,169.96 181.76,169.96 182.09,169.96 182.42,169.96 182.76,169.96 183.09,169.96 183.43,169.96 183.76,169.96 184.10,169.96 184.43,169.96 184.77,169.96 185.10,169.96 185.44,169.96 185.77,169.96 186.10,169.96 186.44,169.96 186.77,169.96 187.11,169.96 187.44,169.96 187.78,169.96 188.11,169.96 188.45,169.96 188.78,169.96 189.12,169.96 189.45,169.96 189.79,169.96 190.12,169.96 190.45,169.96 190.79,169.96 191.12,169.96 191.46,169.96 191.79,169.96 192.13,169.96 192.46,169.96 192.80,169.96 193.13,169.96 193.47,169.96 193.80,169.96 194.14,169.96 194.47,169.96 194.80,169.96 195.14,169.96 195.47,169.96 195.81,169.96 196.14,169.96 196.48,169.96 196.81,169.96 197.15,169.96 197.48,169.96 197.82,169.96 198.15,169.96 198.49,169.96 198.82,169.96 199.15,169.96 199.49,169.96 199.82,169.96 200.16,169.96 200.49,169.96 200.83,169.96 201.16,169.96 201.50,169.96 201.83,169.96 202.17,169.96 202.50,169.96 202.84,169.96 203.17,169.96 203.50,169.96 203.84,169.96 204.17,169.96 204.51,169.96 204.84,169.96 205.18,169.96 205.51,169.96 205.85,169.96 206.18,169.96 206.52,169.96 206.85,169.96 207.19,169.96 207.52,169.96 207.85,169.96 208.19,169.96 208.52,169.96 208.86,169.96 209.19,169.96 209.53,169.96 209.86,169.96 210.20,169.96 210.53,169.96 210.87,169.96 211.20,169.96 211.54,169.96 211.87,169.96 212.20,169.96 212.54,169.96 212.87,169.96 213.21,169.96 213.54,169.96 213.88,169.96 214.21,169.96 214.55,169.96 214.88,169.96 215.22,169.96 215.55,169.96 215.89,169.96 216.22,169.96 216.55,169.96 216.89,169.96 217.22,169.96 217.56,169.96 217.89,169.96 218.23,169.96 218.56,169.96 218.90,169.96 219.23,169.96 219.57,169.96 219.90,169.96 220.24,169.96 220.57,169.96 220.90,169.96 221.24,169.96 221.57,169.96 221.91,169.96 222.24,169.96 222.58,169.96 222.91,169.96 223.25,169.96 223.58,169.96 223.92,169.96 224.25,169.96 224.59,169.96 224.92,169.96 225.25,169.96 225.59,169.96 225.92,169.96 226.26,169.96 226.59,169.96 226.93,169.96 227.26,169.96 227.60,169.96 227.93,169.96 228.27,169.96 228.60,169.96 228.94,169.96 229.27,169.96 229.60,169.96 229.94,169.96 230.27,169.96 230.61,169.96 230.94,169.96 231.28,169.96 231.61,169.96 231.95,169.96 232.28,169.96 232.62,169.96 232.95,169.96 233.28,169.96 233.62,169.96 233.95,169.96 234.29,169.96 234.62,169.96 234.96,169.96 235.29,169.96 235.63,169.96 235.96,169.96 236.30,169.96 236.63,169.96 236.97,169.96 237.30,169.96 237.63,169.96 237.97,169.96 238.30,169.96 238.64,169.96 238.97,169.96 239.31,169.96 239.64,169.96 239.98,169.96 240.31,169.96 240.65,169.96 240.98,169.96 241.32,169.96 241.65,169.96 241.98,169.96 242.32,169.96 242.65,169.96 242.99,169.96 243.32,169.96 243.66,169.96 243.99,169.96 244.33,169.96 244.66,169.96 245.00,169.96 245.33,169.96 245.67,169.96 246.00,169.96 246.33,169.96 246.67,169.96 247.00,169.96 247.34,169.96 247.67,169.96 248.01,169.96 248.34,169.96 248.68,169.96 249.01,169.96 249.35,169.96 249.68,169.96 250.02,169.96 250.35,169.96" fill="none" stroke="#3434ff" stroke-width="1.0" stroke-linejoin="round"/>
<rect x="36.2" y="89.75" width="214.15" height="87.50" fill="none" stroke="#2a2a2a" stroke-width="1.0"/>
<text x="34.00" y="174.11" font-size="12.7" text-anchor="end" stroke="#000" stroke-width="0.2">0.0</text>
<text x="34.00" y="159.53" font-size="12.7" text-anchor="end" stroke="#000" stroke-width="0.2">0.2</text>
<text x="34.00" y="144.94" font-size="12.7" text-anchor="end" stroke="#000" stroke-width="0.2">0.4</text>
<text x="34.00" y="130.36" font-size="12.7" text-anchor="end" stroke="#000" stroke-width="0.2">0.6</text>
<text x="34.00" y="115.78" font-size="12.7" text-anchor="end" stroke="#000" stroke-width="0.2">0.8</text>
<text x="34.00" y="101.19" font-size="12.7" text-anchor="end" stroke="#000" stroke-width="0.2">1.0</text>
<path d="M36.20,169.96h2.3M250.35,169.96h-2.3M36.20,162.67h1.4M250.35,162.67h-1.4M36.20,155.38h2.3M250.35,155.38h-2.3M36.20,148.08h1.4M250.35,148.08h-1.4M36.20,140.79h2.3M250.35,140.79h-2.3M36.20,133.50h1.4M250.35,133.50h-1.4M36.20,126.21h2.3M250.35,126.21h-2.3M36.20,118.92h1.4M250.35,118.92h-1.4M36.20,111.63h2.3M250.35,111.63h-2.3M36.20,104.33h1.4M250.35,104.33h-1.4M36.20,97.04h2.3M250.35,97.04h-2.3M36.20,177.25v-2.3M36.20,89.75v2.3M49.58,177.25v-1.4M49.58,89.75v1.4M62.97,177.25v-2.3M62.97,89.75v2.3M76.35,177.25v-1.4M76.35,89.75v1.4M89.74,177.25v-2.3M89.74,89.75v2.3M103.12,177.25v-1.4M103.12,89.75v1.4M116.51,177.25v-2.3M116.51,89.75v2.3M129.89,177.25v-1.4M129.89,89.75v1.4M143.27,177.25v-2.3M143.27,89.75v2.3M156.66,177.25v-1.4M156.66,89.75v1.4M170.04,177.25v-2.3M170.04,89.75v2.3M183.43,177.25v-1.4M183.43,89.75v1.4M196.81,177.25v-2.3M196.81,89.75v2.3M210.20,177.25v-1.4M210.20,89.75v1.4M223.58,177.25v-2.3M223.58,89.75v2.3M236.97,177.25v-1.4M236.97,89.75v1.4M250.35,177.25v-2.3M250.35,89.75v2.3" stroke="#2a2a2a" stroke-width="0.9" fill="none"/>
<text x="81.70" y="102.70" font-size="9.6" stroke="#000" stroke-width="0.28">279 nm</text>
<rect x="151.0" y="93.9" width="94.60" height="28.30" fill="#fff" stroke="#c4c4c4" stroke-width="0.9"/>
<path d="M151.0,93.9V122.2H245.6" fill="none" stroke="#999" stroke-width="0.9"/>
<line x1="152.00" y1="99.10" x2="168.60" y2="99.10" stroke="#8c8c8c" stroke-width="1.2"/>
<text x="170.30" y="101.50" font-size="7.35" stroke="#000" stroke-width="0.22">Sapphire LED at 5.0 mA</text>
<line x1="152.00" y1="108.30" x2="168.60" y2="108.30" stroke="#ff9999" stroke-width="1.0"/>
<text x="170.30" y="110.80" font-size="7.35" stroke="#000" stroke-width="0.22">Sapphire LED at 3.5 mA</text>
<line x1="152.00" y1="117.20" x2="168.60" y2="117.20" stroke="#4040ff" stroke-width="1.3"/>
<text x="170.30" y="120.10" font-size="7.35" stroke="#000" stroke-width="0.22">Sapphire LED at 2.0 mA</text>
<text x="135.30" y="145.40" font-size="9.5" stroke="#000" stroke-width="0.28">After FZP fabrication</text>
<text transform="translate(11.10,133.50) rotate(-90)" x="0" y="0" font-size="12.7" text-anchor="middle" stroke="#000" stroke-width="0.25">Intensity (a.u.)</text>
<text x="36.20" y="189.60" font-size="12.7" text-anchor="middle" stroke="#000" stroke-width="0.2">220</text>
<text x="62.97" y="189.60" font-size="12.7" text-anchor="middle" stroke="#000" stroke-width="0.2">240</text>
<text x="89.74" y="189.60" font-size="12.7" text-anchor="middle" stroke="#000" stroke-width="0.2">260</text>
<text x="116.51" y="189.60" font-size="12.7" text-anchor="middle" stroke="#000" stroke-width="0.2">280</text>
<text x="143.27" y="189.60" font-size="12.7" text-anchor="middle" stroke="#000" stroke-width="0.2">300</text>
<text x="170.04" y="189.60" font-size="12.7" text-anchor="middle" stroke="#000" stroke-width="0.2">320</text>
<text x="196.81" y="189.60" font-size="12.7" text-anchor="middle" stroke="#000" stroke-width="0.2">340</text>
<text x="223.58" y="189.60" font-size="12.7" text-anchor="middle" stroke="#000" stroke-width="0.2">360</text>
<text x="250.35" y="189.60" font-size="12.7" text-anchor="middle" stroke="#000" stroke-width="0.2">380</text>
<text x="143.40" y="210.20" font-size="12.7" text-anchor="middle" stroke="#000" stroke-width="0.25">Wavelength (nm)</text>
<text x="132.30" y="235.40" font-size="21.5" text-anchor="middle" stroke="#000" stroke-width="0.25">(a)</text>
<polyline points="348.33,82.87 348.67,82.87 349.00,82.86 349.34,82.86 349.67,82.86 350.01,82.85 350.34,82.85 350.68,82.84 351.01,82.84 351.34,82.83 351.68,82.82 352.01,82.81 352.35,82.80 352.68,82.79 353.02,82.78 353.35,82.77 353.69,82.75 354.02,82.74 354.35,82.72 354.69,82.70 355.02,82.68 355.36,82.65 355.69,82.62 356.03,82.59 356.36,82.56 356.70,82.52 357.03,82.48 357.36,82.43 357.70,82.38 358.03,82.32 358.37,82.25 358.70,82.17 359.04,82.09 359.37,81.99 359.71,81.88 360.04,81.76 360.37,81.62 360.71,81.47 361.04,81.30 361.38,81.10 361.71,80.89 362.05,80.64 362.38,80.37 362.72,80.07 363.05,79.73 363.38,79.35 363.72,78.93 364.05,78.46 364.39,77.94 364.72,77.37 365.06,76.74 365.39,76.05 365.73,75.29 366.06,74.46 366.39,73.56 366.73,72.57 367.06,71.51 367.40,70.36 367.73,69.12 368.07,67.79 368.40,66.37 368.74,64.86 369.07,63.26 369.40,61.56 369.74,59.77 370.07,57.90 370.41,55.95 370.74,53.91 371.08,51.80 371.41,49.63 371.75,47.40 372.08,45.13 372.41,42.82 372.75,40.48 373.08,38.14 373.42,35.80 373.75,33.47 374.09,31.18 374.42,28.94 374.76,26.76 375.09,24.66 375.43,22.65 375.76,20.76 376.09,19.00 376.43,17.38 376.76,15.91 377.10,14.61 377.43,13.49 377.77,12.57 378.10,11.83 378.44,11.31 378.77,10.99 379.10,10.88 379.44,10.97 379.77,11.25 380.11,11.70 380.44,12.33 380.78,13.12 381.11,14.08 381.45,15.18 381.78,16.43 382.11,17.80 382.45,19.29 382.78,20.88 383.12,22.56 383.45,24.31 383.79,26.13 384.12,27.98 384.46,29.87 384.79,31.78 385.12,33.69 385.46,35.59 385.79,37.48 386.13,39.34 386.46,41.15 386.80,42.93 387.13,44.65 387.47,46.31 387.80,47.91 388.13,49.44 388.47,50.91 388.80,52.30 389.14,53.63 389.47,54.88 389.81,56.06 390.14,57.18 390.48,58.23 390.81,59.21 391.14,60.14 391.48,61.01 391.81,61.82 392.15,62.58 392.48,63.30 392.82,63.97 393.15,64.60 393.49,65.20 393.82,65.76 394.15,66.29 394.49,66.80 394.82,67.28 395.16,67.73 395.49,68.17 395.83,68.59 396.16,68.99 396.50,69.38 396.83,69.76 397.16,70.12 397.50,70.48 397.83,70.82 398.17,71.16 398.50,71.48 398.84,71.80 399.17,72.12 399.51,72.43 399.84,72.73 400.17,73.02 400.51,73.31 400.84,73.60 401.18,73.88 401.51,74.15 401.85,74.42 402.18,74.69 402.52,74.95 402.85,75.20 403.18,75.45 403.52,75.70 403.85,75.94 404.19,76.17 404.52,76.40 404.86,76.62 405.19,76.84 405.53,77.06 405.86,77.27 406.19,77.47 406.53,77.67 406.86,77.87 407.20,78.06 407.53,78.24 407.87,78.42 408.20,78.59 408.54,78.76 408.87,78.93 409.20,79.09 409.54,79.24 409.87,79.39 410.21,79.54 410.54,79.68 410.88,79.82 411.21,79.95 411.55,80.08 411.88,80.20 412.21,80.32 412.55,80.43 412.88,80.54 413.22,80.65 413.55,80.75 413.89,80.85 414.22,80.95 414.56,81.04 414.89,81.13 415.23,81.21 415.56,81.30 415.89,81.37 416.23,81.45 416.56,81.52 416.90,81.59 417.23,81.66 417.57,81.72 417.90,81.78 418.24,81.84 418.57,81.89 418.90,81.95 419.24,82.00 419.57,82.05 419.91,82.09 420.24,82.14 420.58,82.18 420.91,82.22 421.25,82.26 421.58,82.29 421.91,82.33 422.25,82.36 422.58,82.39 422.92,82.42 423.25,82.45 423.59,82.47 423.92,82.50 424.26,82.52 424.59,82.54 424.92,82.56 425.26,82.58 425.59,82.60 425.93,82.62 426.26,82.64 426.60,82.65 426.93,82.67 427.27,82.68 427.60,82.70 427.93,82.71 428.27,82.72 428.60,82.73 428.94,82.74 429.27,82.75 429.61,82.76 429.94,82.77 430.28,82.78 430.61,82.79 430.94,82.79 431.28,82.80 431.61,82.81 431.95,82.81 432.28,82.82 432.62,82.82 432.95,82.83 433.29,82.83 433.62,82.84 433.95,82.84 434.29,82.85 434.62,82.85 434.96,82.85 435.29,82.85 435.63,82.86 435.96,82.86 436.30,82.86 436.63,82.86 436.96,82.87 437.30,82.87 437.63,82.87 437.97,82.87 438.30,82.87 438.64,82.88 438.97,82.88 439.31,82.88 439.64,82.88 439.97,82.88 440.31,82.88 440.64,82.88 440.98,82.88 441.31,82.88 441.65,82.88 441.98,82.88 442.32,82.89 442.65,82.89 442.98,82.89 443.32,82.89 443.65,82.89 443.99,82.89 444.32,82.89 444.66,82.89 444.99,82.89 445.33,82.89 445.66,82.89 445.99,82.89" fill="none" stroke="#484848" stroke-width="0.95" stroke-linejoin="round"/>
<polyline points="351.01,82.86 351.34,82.86 351.68,82.85 352.01,82.85 352.35,82.84 352.68,82.84 353.02,82.83 353.35,82.82 353.69,82.81 354.02,82.80 354.35,82.79 354.69,82.78 355.02,82.77 355.36,82.76 355.69,82.74 356.03,82.72 356.36,82.70 356.70,82.68 357.03,82.66 357.36,82.63 357.70,82.60 358.03,82.57 358.37,82.53 358.70,82.49 359.04,82.44 359.37,82.38 359.71,82.32 360.04,82.25 360.37,82.18 360.71,82.09 361.04,81.99 361.38,81.88 361.71,81.75 362.05,81.61 362.38,81.45 362.72,81.28 363.05,81.08 363.38,80.85 363.72,80.60 364.05,80.33 364.39,80.02 364.72,79.67 365.06,79.29 365.39,78.88 365.73,78.41 366.06,77.91 366.39,77.35 366.73,76.75 367.06,76.09 367.40,75.37 367.73,74.60 368.07,73.77 368.40,72.87 368.74,71.92 369.07,70.90 369.40,69.83 369.74,68.69 370.07,67.49 370.41,66.23 370.74,64.92 371.08,63.56 371.41,62.15 371.75,60.71 372.08,59.22 372.41,57.72 372.75,56.19 373.08,54.65 373.42,53.11 373.75,51.58 374.09,50.07 374.42,48.58 374.76,47.14 375.09,45.75 375.43,44.42 375.76,43.16 376.09,41.98 376.43,40.90 376.76,39.93 377.10,39.06 377.43,38.31 377.77,37.69 378.10,37.20 378.44,36.85 378.77,36.63 379.10,36.56 379.44,36.61 379.77,36.77 380.11,37.02 380.44,37.38 380.78,37.83 381.11,38.37 381.45,39.00 381.78,39.71 382.11,40.50 382.45,41.36 382.78,42.28 383.12,43.25 383.45,44.28 383.79,45.35 384.12,46.45 384.46,47.58 384.79,48.72 385.12,49.88 385.46,51.04 385.79,52.21 386.13,53.36 386.46,54.50 386.80,55.63 387.13,56.73 387.47,57.80 387.80,58.85 388.13,59.86 388.47,60.84 388.80,61.78 389.14,62.68 389.47,63.54 389.81,64.37 390.14,65.15 390.48,65.89 390.81,66.60 391.14,67.26 391.48,67.89 391.81,68.49 392.15,69.05 392.48,69.58 392.82,70.08 393.15,70.54 393.49,70.99 393.82,71.40 394.15,71.80 394.49,72.17 394.82,72.52 395.16,72.86 395.49,73.17 395.83,73.47 396.16,73.76 396.50,74.04 396.83,74.30 397.16,74.56 397.50,74.80 397.83,75.03 398.17,75.26 398.50,75.48 398.84,75.70 399.17,75.90 399.51,76.11 399.84,76.30 400.17,76.50 400.51,76.68 400.84,76.87 401.18,77.05 401.51,77.22 401.85,77.40 402.18,77.56 402.52,77.73 402.85,77.89 403.18,78.05 403.52,78.20 403.85,78.36 404.19,78.51 404.52,78.65 404.86,78.79 405.19,78.93 405.53,79.07 405.86,79.20 406.19,79.33 406.53,79.46 406.86,79.58 407.20,79.70 407.53,79.82 407.87,79.94 408.20,80.05 408.54,80.16 408.87,80.26 409.20,80.36 409.54,80.46 409.87,80.56 410.21,80.65 410.54,80.74 410.88,80.83 411.21,80.92 411.55,81.00 411.88,81.08 412.21,81.16 412.55,81.23 412.88,81.31 413.22,81.38 413.55,81.44 413.89,81.51 414.22,81.57 414.56,81.63 414.89,81.69 415.23,81.75 415.56,81.80 415.89,81.85 416.23,81.90 416.56,81.95 416.90,82.00 417.23,82.04 417.57,82.08 417.90,82.12 418.24,82.16 418.57,82.20 418.90,82.23 419.24,82.27 419.57,82.30 419.91,82.33 420.24,82.36 420.58,82.39 420.91,82.42 421.25,82.44 421.58,82.47 421.91,82.49 422.25,82.51 422.58,82.53 422.92,82.55 423.25,82.57 423.59,82.59 423.92,82.61 424.26,82.63 424.59,82.64 424.92,82.66 425.26,82.67 425.59,82.68 425.93,82.70 426.26,82.71 426.60,82.72 426.93,82.73 427.27,82.74 427.60,82.75 427.93,82.76 428.27,82.77 428.60,82.77 428.94,82.78 429.27,82.79 429.61,82.80 429.94,82.80 430.28,82.81 430.61,82.81 430.94,82.82 431.28,82.82 431.61,82.83 431.95,82.83 432.28,82.84 432.62,82.84 432.95,82.84 433.29,82.85 433.62,82.85 433.95,82.85 434.29,82.86 434.62,82.86 434.96,82.86 435.29,82.86 435.63,82.87 435.96,82.87 436.30,82.87 436.63,82.87 436.96,82.87 437.30,82.87 437.63,82.87 437.97,82.88 438.30,82.88 438.64,82.88 438.97,82.88 439.31,82.88 439.64,82.88 439.97,82.88 440.31,82.88 440.64,82.88 440.98,82.88 441.31,82.88 441.65,82.89 441.98,82.89 442.32,82.89 442.65,82.89 442.98,82.89 443.32,82.89 443.65,82.89 443.99,82.89 444.32,82.89 444.66,82.89 444.99,82.89 445.33,82.89 445.66,82.89 445.99,82.89 446.33,82.89 446.66,82.89 447.00,82.89 447.33,82.89 447.67,82.89 448.00,82.89 448.34,82.89 448.67,82.89 449.00,82.89 449.34,82.89 449.67,82.89 450.01,82.89 450.34,82.89 450.68,82.89 451.01,82.89 451.35,82.89 451.68,82.89 452.01,82.89 452.35,82.89 452.68,82.89 453.02,82.89 453.35,82.89 453.69,82.89 454.02,82.89 454.36,82.89 454.69,82.89 455.02,82.89 455.36,82.89 455.69,82.89 456.03,82.89 456.36,82.89 456.70,82.89 457.03,82.89 457.37,82.89 457.70,82.89 458.03,82.89 458.37,82.89 458.70,82.89 459.04,82.89 459.37,82.89 459.71,82.89 460.04,82.89 460.38,82.89 460.71,82.89 461.05,82.89 461.38,82.89 461.71,82.89 462.05,82.89 462.38,82.89 462.72,82.89 463.05,82.89 463.39,82.89 463.72,82.89 464.06,82.89 464.39,82.89 464.72,82.89 465.06,82.89 465.39,82.89 465.73,82.89 466.06,82.89 466.40,82.89 466.73,82.89 467.07,82.89 467.40,82.89 467.73,82.89 468.07,82.89 468.40,82.89 468.74,82.89 469.07,82.89 469.41,82.89 469.74,82.89 470.08,82.89" fill="none" stroke="#ff3030" stroke-width="1.0" stroke-linejoin="round"/>
<polyline points="308.20,82.89 308.53,82.89 308.87,82.89 309.20,82.89 309.54,82.89 309.87,82.89 310.21,82.89 310.54,82.89 310.88,82.89 311.21,82.89 311.54,82.89 311.88,82.89 312.21,82.89 312.55,82.89 312.88,82.89 313.22,82.89 313.55,82.89 313.89,82.89 314.22,82.89 314.55,82.89 314.89,82.89 315.22,82.89 315.56,82.89 315.89,82.89 316.23,82.89 316.56,82.89 316.90,82.89 317.23,82.89 317.56,82.89 317.90,82.89 318.23,82.89 318.57,82.89 318.90,82.89 319.24,82.89 319.57,82.89 319.91,82.89 320.24,82.89 320.57,82.89 320.91,82.89 321.24,82.89 321.58,82.89 321.91,82.89 322.25,82.89 322.58,82.89 322.92,82.89 323.25,82.89 323.58,82.89 323.92,82.89 324.25,82.89 324.59,82.89 324.92,82.89 325.26,82.89 325.59,82.89 325.93,82.89 326.26,82.89 326.59,82.89 326.93,82.89 327.26,82.89 327.60,82.89 327.93,82.89 328.27,82.89 328.60,82.89 328.94,82.89 329.27,82.89 329.61,82.89 329.94,82.89 330.27,82.89 330.61,82.89 330.94,82.89 331.28,82.89 331.61,82.89 331.95,82.89 332.28,82.89 332.62,82.89 332.95,82.89 333.28,82.89 333.62,82.89 333.95,82.89 334.29,82.89 334.62,82.89 334.96,82.89 335.29,82.89 335.63,82.89 335.96,82.89 336.29,82.89 336.63,82.89 336.96,82.89 337.30,82.89 337.63,82.89 337.97,82.89 338.30,82.89 338.64,82.89 338.97,82.89 339.30,82.89 339.64,82.89 339.97,82.89 340.31,82.89 340.64,82.89 340.98,82.89 341.31,82.89 341.65,82.89 341.98,82.89 342.31,82.89 342.65,82.89 342.98,82.89 343.32,82.89 343.65,82.89 343.99,82.89 344.32,82.89 344.66,82.89 344.99,82.89 345.32,82.89 345.66,82.89 345.99,82.89 346.33,82.89 346.66,82.89 347.00,82.89 347.33,82.89 347.67,82.89 348.00,82.88 348.33,82.88 348.67,82.88 349.00,82.88 349.34,82.88 349.67,82.88 350.01,82.88 350.34,82.87 350.68,82.87 351.01,82.87 351.34,82.87 351.68,82.86 352.01,82.86 352.35,82.86 352.68,82.85 353.02,82.85 353.35,82.85 353.69,82.84 354.02,82.83 354.35,82.83 354.69,82.82 355.02,82.81 355.36,82.80 355.69,82.79 356.03,82.78 356.36,82.77 356.70,82.76 357.03,82.74 357.36,82.73 357.70,82.71 358.03,82.69 358.37,82.67 358.70,82.64 359.04,82.61 359.37,82.58 359.71,82.55 360.04,82.51 360.37,82.46 360.71,82.41 361.04,82.36 361.38,82.30 361.71,82.23 362.05,82.15 362.38,82.07 362.72,81.98 363.05,81.87 363.38,81.76 363.72,81.63 364.05,81.49 364.39,81.34 364.72,81.17 365.06,80.99 365.39,80.78 365.73,80.57 366.06,80.33 366.39,80.07 366.73,79.79 367.06,79.49 367.40,79.17 367.73,78.83 368.07,78.46 368.40,78.07 368.74,77.66 369.07,77.22 369.40,76.76 369.74,76.28 370.07,75.78 370.41,75.25 370.74,74.71 371.08,74.15 371.41,73.58 371.75,73.00 372.08,72.40 372.41,71.80 372.75,71.19 373.08,70.58 373.42,69.98 373.75,69.38 374.09,68.79 374.42,68.21 374.76,67.66 375.09,67.12 375.43,66.61 375.76,66.13 376.09,65.68 376.43,65.27 376.76,64.90 377.10,64.57 377.43,64.29 377.77,64.06 378.10,63.87 378.44,63.74 378.77,63.66 379.10,63.63 379.44,63.65 379.77,63.70 380.11,63.79 380.44,63.92 380.78,64.07 381.11,64.27 381.45,64.49 381.78,64.74 382.11,65.02 382.45,65.33 382.78,65.66 383.12,66.01 383.45,66.38 383.79,66.77 384.12,67.17 384.46,67.59 384.79,68.01 385.12,68.45 385.46,68.89 385.79,69.33 386.13,69.77 386.46,70.22 386.80,70.66 387.13,71.09 387.47,71.52 387.80,71.94 388.13,72.35 388.47,72.76 388.80,73.15 389.14,73.53 389.47,73.90 389.81,74.25 390.14,74.59 390.48,74.92 390.81,75.24 391.14,75.54 391.48,75.83 391.81,76.10 392.15,76.36 392.48,76.61 392.82,76.85 393.15,77.08 393.49,77.29 393.82,77.49 394.15,77.69 394.49,77.87 394.82,78.05 395.16,78.21 395.49,78.37 395.83,78.52 396.16,78.67 396.50,78.81 396.83,78.94 397.16,79.06 397.50,79.19 397.83,79.30 398.17,79.42 398.50,79.52 398.84,79.63 399.17,79.73 399.51,79.83 399.84,79.92 400.17,80.01 400.51,80.10 400.84,80.19 401.18,80.28 401.51,80.36 401.85,80.44 402.18,80.52 402.52,80.60 402.85,80.67 403.18,80.74 403.52,80.81 403.85,80.88 404.19,80.95 404.52,81.02 404.86,81.08 405.19,81.15 405.53,81.21 405.86,81.27 406.19,81.33 406.53,81.38 406.86,81.44 407.20,81.49 407.53,81.55 407.87,81.60 408.20,81.65 408.54,81.70 408.87,81.74 409.20,81.79 409.54,81.83 409.87,81.88 410.21,81.92 410.54,81.96 410.88,82.00 411.21,82.04 411.55,82.07 411.88,82.11 412.21,82.14 412.55,82.18 412.88,82.21 413.22,82.24 413.55,82.27 413.89,82.30 414.22,82.33 414.56,82.35 414.89,82.38 415.23,82.40 415.56,82.43 415.89,82.45 416.23,82.47 416.56,82.49 416.90,82.51 417.23,82.53 417.57,82.55 417.90,82.57 418.24,82.58 418.57,82.60 418.90,82.61 419.24,82.63 419.57,82.64 419.91,82.66 420.24,82.67 420.58,82.68 420.91,82.69 421.25,82.70 421.58,82.71 421.91,82.72 422.25,82.73 422.58,82.74 422.92,82.75 423.25,82.76 423.59,82.77 423.92,82.77 424.26,82.78 424.59,82.79 424.92,82.79 425.26,82.80 425.59,82.81 425.93,82.81 426.26,82.82 426.60,82.82 426.93,82.83 427.27,82.83 427.60,82.83 427.93,82.84 428.27,82.84 428.60,82.84 428.94,82.85 429.27,82.85 429.61,82.85 429.94,82.86 430.28,82.86 430.61,82.86 430.94,82.86 431.28,82.86 431.61,82.87 431.95,82.87 432.28,82.87 432.62,82.87 432.95,82.87 433.29,82.87 433.62,82.88 433.95,82.88 434.29,82.88 434.62,82.88 434.96,82.88 435.29,82.88 435.63,82.88 435.96,82.88 436.30,82.88 436.63,82.88 436.96,82.88 437.30,82.88 437.63,82.89 437.97,82.89 438.30,82.89 438.64,82.89 438.97,82.89 439.31,82.89 439.64,82.89 439.97,82.89 440.31,82.89 440.64,82.89 440.98,82.89 441.31,82.89 441.65,82.89 441.98,82.89 442.32,82.89 442.65,82.89 442.98,82.89 443.32,82.89 443.65,82.89 443.99,82.89 444.32,82.89 444.66,82.89 444.99,82.89 445.33,82.89 445.66,82.89 445.99,82.89 446.33,82.89 446.66,82.89 447.00,82.89 447.33,82.89 447.67,82.89 448.00,82.89 448.34,82.89 448.67,82.89 449.00,82.89 449.34,82.89 449.67,82.89 450.01,82.89 450.34,82.89 450.68,82.89 451.01,82.89 451.35,82.89 451.68,82.89 452.01,82.89 452.35,82.89 452.68,82.89 453.02,82.89 453.35,82.89 453.69,82.89 454.02,82.89 454.36,82.89 454.69,82.89 455.02,82.89 455.36,82.89 455.69,82.89 456.03,82.89 456.36,82.89 456.70,82.89 457.03,82.89 457.37,82.89 457.70,82.89 458.03,82.89 458.37,82.89 458.70,82.89 459.04,82.89 459.37,82.89 459.71,82.89 460.04,82.89 460.38,82.89 460.71,82.89 461.05,82.89 461.38,82.89 461.71,82.89 462.05,82.89 462.38,82.89 462.72,82.89 463.05,82.89 463.39,82.89 463.72,82.89 464.06,82.89 464.39,82.89 464.72,82.89 465.06,82.89 465.39,82.89 465.73,82.89 466.06,82.89 466.40,82.89 466.73,82.89 467.07,82.89 467.40,82.89 467.73,82.89 468.07,82.89 468.40,82.89 468.74,82.89 469.07,82.89 469.41,82.89 469.74,82.89 470.08,82.89 470.41,82.89 470.74,82.89 471.08,82.89 471.41,82.89 471.75,82.89 472.08,82.89 472.42,82.89 472.75,82.89 473.09,82.89 473.42,82.89 473.75,82.89 474.09,82.89 474.42,82.89 474.76,82.89 475.09,82.89 475.43,82.89 475.76,82.89 476.10,82.89 476.43,82.89 476.76,82.89 477.10,82.89 477.43,82.89 477.77,82.89 478.10,82.89 478.44,82.89 478.77,82.89 479.11,82.89 479.44,82.89 479.77,82.89 480.11,82.89 480.44,82.89 480.78,82.89 481.11,82.89 481.45,82.89 481.78,82.89 482.12,82.89 482.45,82.89 482.78,82.89 483.12,82.89 483.45,82.89 483.79,82.89 484.12,82.89 484.46,82.89 484.79,82.89 485.13,82.89 485.46,82.89 485.79,82.89 486.13,82.89 486.46,82.89 486.80,82.89 487.13,82.89 487.47,82.89 487.80,82.89 488.14,82.89 488.47,82.89 488.80,82.89 489.14,82.89 489.47,82.89 489.81,82.89 490.14,82.89 490.48,82.89 490.81,82.89 491.15,82.89 491.48,82.89 491.81,82.89 492.15,82.89 492.48,82.89 492.82,82.89 493.15,82.89 493.49,82.89 493.82,82.89 494.16,82.89 494.49,82.89 494.82,82.89 495.16,82.89 495.49,82.89 495.83,82.89 496.16,82.89 496.50,82.89 496.83,82.89 497.17,82.89 497.50,82.89 497.83,82.89 498.17,82.89 498.50,82.89 498.84,82.89 499.17,82.89 499.51,82.89 499.84,82.89 500.18,82.89 500.51,82.89 500.85,82.89 501.18,82.89 501.51,82.89 501.85,82.89 502.18,82.89 502.52,82.89 502.85,82.89 503.19,82.89 503.52,82.89 503.86,82.89 504.19,82.89 504.52,82.89 504.86,82.89 505.19,82.89 505.53,82.89 505.86,82.89 506.20,82.89 506.53,82.89 506.87,82.89 507.20,82.89 507.53,82.89 507.87,82.89 508.20,82.89 508.54,82.89 508.87,82.89 509.21,82.89 509.54,82.89 509.88,82.89 510.21,82.89 510.54,82.89 510.88,82.89 511.21,82.89 511.55,82.89 511.88,82.89 512.22,82.89 512.55,82.89 512.89,82.89 513.22,82.89 513.55,82.89 513.89,82.89 514.22,82.89 514.56,82.89 514.89,82.89 515.23,82.89 515.56,82.89 515.90,82.89 516.23,82.89 516.56,82.89 516.90,82.89 517.23,82.89 517.57,82.89 517.90,82.89 518.24,82.89 518.57,82.89 518.91,82.89 519.24,82.89 519.57,82.89 519.91,82.89 520.24,82.89 520.58,82.89 520.91,82.89 521.25,82.89 521.58,82.89 521.92,82.89 522.25,82.89" fill="none" stroke="#3434ff" stroke-width="1.0" stroke-linejoin="round"/>
<line x1="379.10" y1="2.20" x2="379.10" y2="177.25" stroke="#505050" stroke-width="1.35" stroke-dasharray="1.3 2.19" stroke-dashoffset="1.1"/>
<rect x="308.2" y="2.2" width="214.05" height="87.55" fill="none" stroke="#2a2a2a" stroke-width="1.0"/>
<text x="306.00" y="86.60" font-size="12.7" text-anchor="end" stroke="#000" stroke-width="0.2">0.0</text>
<text x="306.00" y="72.01" font-size="12.7" text-anchor="end" stroke="#000" stroke-width="0.2">0.2</text>
<text x="306.00" y="57.42" font-size="12.7" text-anchor="end" stroke="#000" stroke-width="0.2">0.4</text>
<text x="306.00" y="42.83" font-size="12.7" text-anchor="end" stroke="#000" stroke-width="0.2">0.6</text>
<text x="306.00" y="28.24" font-size="12.7" text-anchor="end" stroke="#000" stroke-width="0.2">0.8</text>
<text x="306.00" y="13.65" font-size="12.7" text-anchor="end" stroke="#000" stroke-width="0.2">1.0</text>
<path d="M308.20,82.45h2.3M522.25,82.45h-2.3M308.20,75.16h1.4M522.25,75.16h-1.4M308.20,67.86h2.3M522.25,67.86h-2.3M308.20,60.57h1.4M522.25,60.57h-1.4M308.20,53.27h2.3M522.25,53.27h-2.3M308.20,45.98h1.4M522.25,45.98h-1.4M308.20,38.68h2.3M522.25,38.68h-2.3M308.20,31.38h1.4M522.25,31.38h-1.4M308.20,24.09h2.3M522.25,24.09h-2.3M308.20,16.79h1.4M522.25,16.79h-1.4M308.20,9.50h2.3M522.25,9.50h-2.3M308.20,89.75v-2.3M308.20,2.20v2.3M321.58,89.75v-1.4M321.58,2.20v1.4M334.96,89.75v-2.3M334.96,2.20v2.3M348.33,89.75v-1.4M348.33,2.20v1.4M361.71,89.75v-2.3M361.71,2.20v2.3M375.09,89.75v-1.4M375.09,2.20v1.4M388.47,89.75v-2.3M388.47,2.20v2.3M401.85,89.75v-1.4M401.85,2.20v1.4M415.23,89.75v-2.3M415.23,2.20v2.3M428.60,89.75v-1.4M428.60,2.20v1.4M441.98,89.75v-2.3M441.98,2.20v2.3M455.36,89.75v-1.4M455.36,2.20v1.4M468.74,89.75v-2.3M468.74,2.20v2.3M482.12,89.75v-1.4M482.12,2.20v1.4M495.49,89.75v-2.3M495.49,2.20v2.3M508.87,89.75v-1.4M508.87,2.20v1.4M522.25,89.75v-2.3M522.25,2.20v2.3" stroke="#2a2a2a" stroke-width="0.9" fill="none"/>
<text x="344.70" y="14.30" font-size="9.4" stroke="#000" stroke-width="0.2">273 nm</text>
<rect x="436.6" y="6.4" width="80.40" height="29.10" fill="#fff" stroke="#c4c4c4" stroke-width="0.9"/>
<path d="M436.6,6.4V35.5H517.0" fill="none" stroke="#999" stroke-width="0.9"/>
<line x1="437.30" y1="11.40" x2="453.80" y2="11.40" stroke="#ff9999" stroke-width="1.0"/>
<text x="456.00" y="13.80" font-size="7.35" stroke="#000" stroke-width="0.22">AlN LED at 5.0 mA</text>
<line x1="437.30" y1="20.60" x2="453.80" y2="20.60" stroke="#333333" stroke-width="1.0"/>
<text x="456.00" y="23.10" font-size="7.35" stroke="#000" stroke-width="0.22">AlN LED at 3.5 mA</text>
<line x1="437.30" y1="29.90" x2="453.80" y2="29.90" stroke="#4848ff" stroke-width="1.6"/>
<text x="456.00" y="32.30" font-size="7.35" stroke="#000" stroke-width="0.22">AlN LED at 2.0 mA</text>
<text x="398.60" y="58.80" font-size="9.5" stroke="#000" stroke-width="0.2">Before FZP fabrication</text>
<text transform="translate(282.60,45.98) rotate(-90)" x="0" y="0" font-size="12.7" text-anchor="middle" stroke="#000" stroke-width="0.25">Intensity (a.u.)</text>
<polyline points="348.33,169.94 348.67,169.93 349.00,169.93 349.34,169.93 349.67,169.92 350.01,169.92 350.34,169.91 350.68,169.91 351.01,169.90 351.34,169.89 351.68,169.89 352.01,169.88 352.35,169.87 352.68,169.86 353.02,169.85 353.35,169.83 353.69,169.82 354.02,169.80 354.35,169.78 354.69,169.76 355.02,169.74 355.36,169.72 355.69,169.69 356.03,169.66 356.36,169.62 356.70,169.58 357.03,169.54 357.36,169.49 357.70,169.44 358.03,169.38 358.37,169.31 358.70,169.23 359.04,169.15 359.37,169.05 359.71,168.94 360.04,168.82 360.37,168.68 360.71,168.52 361.04,168.35 361.38,168.16 361.71,167.94 362.05,167.69 362.38,167.42 362.72,167.11 363.05,166.77 363.38,166.38 363.72,165.96 364.05,165.49 364.39,164.97 364.72,164.39 365.06,163.76 365.39,163.06 365.73,162.29 366.06,161.46 366.39,160.54 366.73,159.55 367.06,158.48 367.40,157.32 367.73,156.07 368.07,154.73 368.40,153.30 368.74,151.77 369.07,150.16 369.40,148.45 369.74,146.64 370.07,144.75 370.41,142.78 370.74,140.73 371.08,138.60 371.41,136.41 371.75,134.17 372.08,131.87 372.41,129.54 372.75,127.19 373.08,124.82 373.42,122.46 373.75,120.12 374.09,117.81 374.42,115.54 374.76,113.34 375.09,111.23 375.43,109.21 375.76,107.30 376.09,105.52 376.43,103.88 376.76,102.41 377.10,101.10 377.43,99.97 377.77,99.03 378.10,98.29 378.44,97.76 378.77,97.44 379.10,97.33 379.44,97.43 379.77,97.70 380.11,98.16 380.44,98.79 380.78,99.59 381.11,100.55 381.45,101.67 381.78,102.93 382.11,104.31 382.45,105.81 382.78,107.42 383.12,109.11 383.45,110.88 383.79,112.71 384.12,114.58 384.46,116.49 384.79,118.41 385.12,120.34 385.46,122.26 385.79,124.16 386.13,126.03 386.46,127.86 386.80,129.65 387.13,131.39 387.47,133.06 387.80,134.68 388.13,136.22 388.47,137.70 388.80,139.11 389.14,140.44 389.47,141.71 389.81,142.90 390.14,144.03 390.48,145.08 390.81,146.08 391.14,147.01 391.48,147.89 391.81,148.71 392.15,149.48 392.48,150.20 392.82,150.88 393.15,151.51 393.49,152.11 393.82,152.68 394.15,153.22 394.49,153.73 394.82,154.21 395.16,154.67 395.49,155.11 395.83,155.53 396.16,155.94 396.50,156.33 396.83,156.71 397.16,157.08 397.50,157.44 397.83,157.78 398.17,158.12 398.50,158.45 398.84,158.78 399.17,159.09 399.51,159.40 399.84,159.71 400.17,160.00 400.51,160.30 400.84,160.59 401.18,160.87 401.51,161.14 401.85,161.42 402.18,161.68 402.52,161.95 402.85,162.20 403.18,162.45 403.52,162.70 403.85,162.94 404.19,163.18 404.52,163.41 404.86,163.64 405.19,163.86 405.53,164.08 405.86,164.29 406.19,164.49 406.53,164.69 406.86,164.89 407.20,165.08 407.53,165.27 407.87,165.45 408.20,165.62 408.54,165.79 408.87,165.96 409.20,166.12 409.54,166.28 409.87,166.43 410.21,166.58 410.54,166.72 410.88,166.86 411.21,166.99 411.55,167.12 411.88,167.24 412.21,167.36 412.55,167.48 412.88,167.59 413.22,167.70 413.55,167.80 413.89,167.90 414.22,168.00 414.56,168.09 414.89,168.18 415.23,168.27 415.56,168.35 415.89,168.43 416.23,168.50 416.56,168.58 416.90,168.65 417.23,168.71 417.57,168.78 417.90,168.84 418.24,168.90 418.57,168.95 418.90,169.01 419.24,169.06 419.57,169.11 419.91,169.15 420.24,169.20 420.58,169.24 420.91,169.28 421.25,169.32 421.58,169.35 421.91,169.39 422.25,169.42 422.58,169.45 422.92,169.48 423.25,169.51 423.59,169.53 423.92,169.56 424.26,169.58 424.59,169.61 424.92,169.63 425.26,169.65 425.59,169.67 425.93,169.69 426.26,169.70 426.60,169.72 426.93,169.73 427.27,169.75 427.60,169.76 427.93,169.77 428.27,169.79 428.60,169.80 428.94,169.81 429.27,169.82 429.61,169.83 429.94,169.84 430.28,169.84 430.61,169.85 430.94,169.86 431.28,169.87 431.61,169.87 431.95,169.88 432.28,169.88 432.62,169.89 432.95,169.89 433.29,169.90 433.62,169.90 433.95,169.91 434.29,169.91 434.62,169.91 434.96,169.92 435.29,169.92 435.63,169.92 435.96,169.93 436.30,169.93 436.63,169.93 436.96,169.93 437.30,169.93 437.63,169.94 437.97,169.94 438.30,169.94 438.64,169.94 438.97,169.94 439.31,169.94 439.64,169.95 439.97,169.95 440.31,169.95 440.64,169.95 440.98,169.95 441.31,169.95 441.65,169.95 441.98,169.95 442.32,169.95 442.65,169.95 442.98,169.95 443.32,169.95 443.65,169.95 443.99,169.95 444.32,169.95 444.66,169.95 444.99,169.96 445.33,169.96 445.66,169.96 445.99,169.96 446.33,169.96 446.66,169.96 447.00,169.96 447.33,169.96 447.67,169.96 448.00,169.96 448.34,169.96 448.67,169.96 449.00,169.96 449.34,169.96 449.67,169.96 450.01,169.96 450.34,169.96 450.68,169.96 451.01,169.96 451.35,169.96 451.68,169.96 452.01,169.96 452.35,169.96 452.68,169.96 453.02,169.96 453.35,169.96 453.69,169.96 454.02,169.96 454.36,169.96 454.69,169.96 455.02,169.96 455.36,169.96 455.69,169.96 456.03,169.96 456.36,169.96 456.70,169.96 457.03,169.96 457.37,169.96 457.70,169.96 458.03,169.96 458.37,169.96 458.70,169.96 459.04,169.96 459.37,169.96 459.71,169.96 460.04,169.96 460.38,169.96 460.71,169.96 461.05,169.96 461.38,169.96 461.71,169.96 462.05,169.96 462.38,169.96 462.72,169.96 463.05,169.96 463.39,169.96 463.72,169.96 464.06,169.96 464.39,169.96 464.72,169.96 465.06,169.96 465.39,169.96 465.73,169.96 466.06,169.96 466.40,169.96 466.73,169.96 467.07,169.96 467.40,169.96 467.73,169.96 468.07,169.96 468.40,169.96 468.74,169.96 469.07,169.96 469.41,169.96 469.74,169.96 470.08,169.96 470.41,169.96 470.74,169.96 471.08,169.96 471.41,169.96 471.75,169.96 472.08,169.96 472.42,169.96 472.75,169.96 473.09,169.96 473.42,169.96 473.75,169.96 474.09,169.96 474.42,169.96 474.76,169.96 475.09,169.96 475.43,169.96 475.76,169.96 476.10,169.96 476.43,169.96 476.76,169.96 477.10,169.96 477.43,169.96 477.77,169.96 478.10,169.96" fill="none" stroke="#484848" stroke-width="0.95" stroke-linejoin="round"/>
<polyline points="351.01,169.93 351.34,169.92 351.68,169.92 352.01,169.91 352.35,169.91 352.68,169.90 353.02,169.89 353.35,169.89 353.69,169.88 354.02,169.87 354.35,169.86 354.69,169.85 355.02,169.83 355.36,169.82 355.69,169.80 356.03,169.79 356.36,169.77 356.70,169.74 357.03,169.72 357.36,169.69 357.70,169.66 358.03,169.63 358.37,169.59 358.70,169.54 359.04,169.49 359.37,169.44 359.71,169.38 360.04,169.30 360.37,169.22 360.71,169.13 361.04,169.03 361.38,168.92 361.71,168.79 362.05,168.65 362.38,168.48 362.72,168.30 363.05,168.10 363.38,167.87 363.72,167.61 364.05,167.33 364.39,167.01 364.72,166.66 365.06,166.27 365.39,165.84 365.73,165.36 366.06,164.84 366.39,164.27 366.73,163.65 367.06,162.97 367.40,162.24 367.73,161.45 368.07,160.59 368.40,159.68 368.74,158.70 369.07,157.66 369.40,156.55 369.74,155.38 370.07,154.15 370.41,152.86 370.74,151.52 371.08,150.12 371.41,148.68 371.75,147.19 372.08,145.67 372.41,144.12 372.75,142.56 373.08,140.98 373.42,139.40 373.75,137.83 374.09,136.27 374.42,134.75 374.76,133.27 375.09,131.84 375.43,130.48 375.76,129.18 376.09,127.98 376.43,126.87 376.76,125.87 377.10,124.98 377.43,124.21 377.77,123.57 378.10,123.07 378.44,122.71 378.77,122.49 379.10,122.42 379.44,122.47 379.77,122.63 380.11,122.89 380.44,123.25 380.78,123.71 381.11,124.27 381.45,124.92 381.78,125.65 382.11,126.45 382.45,127.34 382.78,128.28 383.12,129.28 383.45,130.34 383.79,131.43 384.12,132.56 384.46,133.72 384.79,134.89 385.12,136.08 385.46,137.28 385.79,138.47 386.13,139.65 386.46,140.83 386.80,141.98 387.13,143.11 387.47,144.21 387.80,145.29 388.13,146.33 388.47,147.33 388.80,148.29 389.14,149.22 389.47,150.10 389.81,150.95 390.14,151.75 390.48,152.51 390.81,153.24 391.14,153.92 391.48,154.57 391.81,155.18 392.15,155.75 392.48,156.30 392.82,156.81 393.15,157.29 393.49,157.74 393.82,158.17 394.15,158.57 394.49,158.96 394.82,159.32 395.16,159.66 395.49,159.98 395.83,160.29 396.16,160.59 396.50,160.87 396.83,161.14 397.16,161.40 397.50,161.65 397.83,161.90 398.17,162.13 398.50,162.35 398.84,162.57 399.17,162.79 399.51,162.99 399.84,163.20 400.17,163.39 400.51,163.59 400.84,163.78 401.18,163.96 401.51,164.14 401.85,164.32 402.18,164.49 402.52,164.66 402.85,164.83 403.18,164.99 403.52,165.15 403.85,165.30 404.19,165.46 404.52,165.61 404.86,165.75 405.19,165.90 405.53,166.04 405.86,166.17 406.19,166.31 406.53,166.44 406.86,166.56 407.20,166.69 407.53,166.81 407.87,166.92 408.20,167.04 408.54,167.15 408.87,167.26 409.20,167.36 409.54,167.47 409.87,167.57 410.21,167.66 410.54,167.76 410.88,167.85 411.21,167.93 411.55,168.02 411.88,168.10 412.21,168.18 412.55,168.26 412.88,168.33 413.22,168.40 413.55,168.47 413.89,168.54 414.22,168.60 414.56,168.67 414.89,168.73 415.23,168.78 415.56,168.84 415.89,168.89 416.23,168.94 416.56,168.99 416.90,169.04 417.23,169.08 417.57,169.13 417.90,169.17 418.24,169.21 418.57,169.25 418.90,169.28 419.24,169.32 419.57,169.35 419.91,169.38 420.24,169.41 420.58,169.44 420.91,169.47 421.25,169.50 421.58,169.52 421.91,169.55 422.25,169.57 422.58,169.59 422.92,169.61 423.25,169.63 423.59,169.65 423.92,169.67 424.26,169.68 424.59,169.70 424.92,169.72 425.26,169.73 425.59,169.74 425.93,169.76 426.26,169.77 426.60,169.78 426.93,169.79 427.27,169.80 427.60,169.81 427.93,169.82 428.27,169.83 428.60,169.84 428.94,169.85 429.27,169.85 429.61,169.86 429.94,169.87 430.28,169.87 430.61,169.88 430.94,169.88 431.28,169.89 431.61,169.89 431.95,169.90 432.28,169.90 432.62,169.91 432.95,169.91 433.29,169.91 433.62,169.92 433.95,169.92 434.29,169.92 434.62,169.92 434.96,169.93 435.29,169.93 435.63,169.93 435.96,169.93 436.30,169.93 436.63,169.94 436.96,169.94 437.30,169.94 437.63,169.94 437.97,169.94 438.30,169.94 438.64,169.94 438.97,169.95 439.31,169.95 439.64,169.95 439.97,169.95 440.31,169.95 440.64,169.95 440.98,169.95 441.31,169.95 441.65,169.95 441.98,169.95 442.32,169.95 442.65,169.95 442.98,169.95 443.32,169.95 443.65,169.95 443.99,169.95 444.32,169.95 444.66,169.96 444.99,169.96 445.33,169.96 445.66,169.96 445.99,169.96 446.33,169.96 446.66,169.96 447.00,169.96 447.33,169.96 447.67,169.96 448.00,169.96 448.34,169.96 448.67,169.96 449.00,169.96 449.34,169.96 449.67,169.96 450.01,169.96 450.34,169.96 450.68,169.96 451.01,169.96 451.35,169.96 451.68,169.96 452.01,169.96 452.35,169.96 452.68,169.96 453.02,169.96 453.35,169.96 453.69,169.96 454.02,169.96 454.36,169.96 454.69,169.96 455.02,169.96 455.36,169.96 455.69,169.96 456.03,169.96 456.36,169.96 456.70,169.96 457.03,169.96 457.37,169.96 457.70,169.96 458.03,169.96 458.37,169.96 458.70,169.96 459.04,169.96 459.37,169.96 459.71,169.96 460.04,169.96 460.38,169.96 460.71,169.96 461.05,169.96 461.38,169.96 461.71,169.96 462.05,169.96 462.38,169.96 462.72,169.96 463.05,169.96 463.39,169.96 463.72,169.96 464.06,169.96 464.39,169.96 464.72,169.96 465.06,169.96 465.39,169.96 465.73,169.96 466.06,169.96 466.40,169.96 466.73,169.96 467.07,169.96 467.40,169.96 467.73,169.96 468.07,169.96 468.40,169.96 468.74,169.96 469.07,169.96 469.41,169.96 469.74,169.96 470.08,169.96 470.41,169.96 470.74,169.96 471.08,169.96 471.41,169.96 471.75,169.96 472.08,169.96 472.42,169.96 472.75,169.96 473.09,169.96 473.42,169.96 473.75,169.96 474.09,169.96 474.42,169.96 474.76,169.96 475.09,169.96 475.43,169.96 475.76,169.96 476.10,169.96 476.43,169.96 476.76,169.96 477.10,169.96 477.43,169.96 477.77,169.96 478.10,169.96" fill="none" stroke="#ff3030" stroke-width="1.0" stroke-linejoin="round"/>
<polyline points="308.20,169.96 308.53,169.96 308.87,169.96 309.20,169.96 309.54,169.96 309.87,169.96 310.21,169.96 310.54,169.96 310.88,169.96 311.21,169.96 311.54,169.96 311.88,169.96 312.21,169.96 312.55,169.96 312.88,169.96 313.22,169.96 313.55,169.96 313.89,169.96 314.22,169.96 314.55,169.96 314.89,169.96 315.22,169.96 315.56,169.96 315.89,169.96 316.23,169.96 316.56,169.96 316.90,169.96 317.23,169.96 317.56,169.96 317.90,169.96 318.23,169.96 318.57,169.96 318.90,169.96 319.24,169.96 319.57,169.96 319.91,169.96 320.24,169.96 320.57,169.96 320.91,169.96 321.24,169.96 321.58,169.96 321.91,169.96 322.25,169.96 322.58,169.96 322.92,169.96 323.25,169.96 323.58,169.96 323.92,169.96 324.25,169.96 324.59,169.96 324.92,169.96 325.26,169.96 325.59,169.96 325.93,169.96 326.26,169.96 326.59,169.96 326.93,169.96 327.26,169.96 327.60,169.96 327.93,169.96 328.27,169.96 328.60,169.96 328.94,169.96 329.27,169.96 329.61,169.96 329.94,169.96 330.27,169.96 330.61,169.96 330.94,169.96 331.28,169.96 331.61,169.96 331.95,169.96 332.28,169.96 332.62,169.96 332.95,169.96 333.28,169.96 333.62,169.96 333.95,169.96 334.29,169.96 334.62,169.96 334.96,169.96 335.29,169.96 335.63,169.96 335.96,169.96 336.29,169.96 336.63,169.96 336.96,169.96 337.30,169.96 337.63,169.96 337.97,169.96 338.30,169.96 338.64,169.96 338.97,169.96 339.30,169.96 339.64,169.96 339.97,169.96 340.31,169.96 340.64,169.96 340.98,169.96 341.31,169.96 341.65,169.96 341.98,169.96 342.31,169.96 342.65,169.96 342.98,169.96 343.32,169.96 343.65,169.96 343.99,169.96 344.32,169.96 344.66,169.96 344.99,169.96 345.32,169.96 345.66,169.95 345.99,169.95 346.33,169.95 346.66,169.95 347.00,169.95 347.33,169.95 347.67,169.95 348.00,169.95 348.33,169.95 348.67,169.95 349.00,169.95 349.34,169.95 349.67,169.94 350.01,169.94 350.34,169.94 350.68,169.94 351.01,169.94 351.34,169.93 351.68,169.93 352.01,169.93 352.35,169.92 352.68,169.92 353.02,169.92 353.35,169.91 353.69,169.91 354.02,169.90 354.35,169.89 354.69,169.89 355.02,169.88 355.36,169.87 355.69,169.86 356.03,169.85 356.36,169.84 356.70,169.82 357.03,169.81 357.36,169.79 357.70,169.77 358.03,169.75 358.37,169.73 358.70,169.70 359.04,169.67 359.37,169.64 359.71,169.60 360.04,169.56 360.37,169.52 360.71,169.47 361.04,169.41 361.38,169.35 361.71,169.28 362.05,169.20 362.38,169.12 362.72,169.02 363.05,168.92 363.38,168.80 363.72,168.67 364.05,168.53 364.39,168.37 364.72,168.20 365.06,168.01 365.39,167.80 365.73,167.58 366.06,167.34 366.39,167.07 366.73,166.79 367.06,166.48 367.40,166.15 367.73,165.80 368.07,165.43 368.40,165.03 368.74,164.61 369.07,164.16 369.40,163.69 369.74,163.20 370.07,162.68 370.41,162.15 370.74,161.60 371.08,161.03 371.41,160.44 371.75,159.84 372.08,159.23 372.41,158.62 372.75,158.00 373.08,157.38 373.42,156.76 373.75,156.15 374.09,155.54 374.42,154.96 374.76,154.39 375.09,153.84 375.43,153.32 375.76,152.83 376.09,152.37 376.43,151.95 376.76,151.57 377.10,151.23 377.43,150.94 377.77,150.70 378.10,150.52 378.44,150.38 378.77,150.30 379.10,150.27 379.44,150.29 379.77,150.34 380.11,150.44 380.44,150.56 380.78,150.72 381.11,150.92 381.45,151.15 381.78,151.40 382.11,151.69 382.45,152.00 382.78,152.34 383.12,152.70 383.45,153.08 383.79,153.48 384.12,153.89 384.46,154.32 384.79,154.75 385.12,155.20 385.46,155.64 385.79,156.10 386.13,156.55 386.46,157.00 386.80,157.45 387.13,157.90 387.47,158.34 387.80,158.77 388.13,159.19 388.47,159.60 388.80,160.00 389.14,160.39 389.47,160.76 389.81,161.13 390.14,161.48 390.48,161.81 390.81,162.13 391.14,162.44 391.48,162.74 391.81,163.02 392.15,163.28 392.48,163.54 392.82,163.78 393.15,164.01 393.49,164.23 393.82,164.44 394.15,164.64 394.49,164.83 394.82,165.01 395.16,165.18 395.49,165.34 395.83,165.49 396.16,165.64 396.50,165.78 396.83,165.92 397.16,166.05 397.50,166.17 397.83,166.29 398.17,166.40 398.50,166.52 398.84,166.62 399.17,166.73 399.51,166.83 399.84,166.92 400.17,167.02 400.51,167.11 400.84,167.20 401.18,167.29 401.51,167.37 401.85,167.45 402.18,167.53 402.52,167.61 402.85,167.69 403.18,167.76 403.52,167.84 403.85,167.91 404.19,167.98 404.52,168.04 404.86,168.11 405.19,168.17 405.53,168.24 405.86,168.30 406.19,168.36 406.53,168.42 406.86,168.47 407.20,168.53 407.53,168.58 407.87,168.64 408.20,168.69 408.54,168.74 408.87,168.79 409.20,168.83 409.54,168.88 409.87,168.92 410.21,168.96 410.54,169.01 410.88,169.05 411.21,169.08 411.55,169.12 411.88,169.16 412.21,169.19 412.55,169.23 412.88,169.26 413.22,169.29 413.55,169.32 413.89,169.35 414.22,169.38 414.56,169.41 414.89,169.43 415.23,169.46 415.56,169.48 415.89,169.50 416.23,169.53 416.56,169.55 416.90,169.57 417.23,169.59 417.57,169.61 417.90,169.62 418.24,169.64 418.57,169.66 418.90,169.67 419.24,169.69 419.57,169.70 419.91,169.72 420.24,169.73 420.58,169.74 420.91,169.75 421.25,169.77 421.58,169.78 421.91,169.79 422.25,169.80 422.58,169.81 422.92,169.81 423.25,169.82 423.59,169.83 423.92,169.84 424.26,169.85 424.59,169.85 424.92,169.86 425.26,169.86 425.59,169.87 425.93,169.88 426.26,169.88 426.60,169.89 426.93,169.89 427.27,169.89 427.60,169.90 427.93,169.90 428.27,169.91 428.60,169.91 428.94,169.91 429.27,169.92 429.61,169.92 429.94,169.92 430.28,169.92 430.61,169.93 430.94,169.93 431.28,169.93 431.61,169.93 431.95,169.93 432.28,169.94 432.62,169.94 432.95,169.94 433.29,169.94 433.62,169.94 433.95,169.94 434.29,169.94 434.62,169.94 434.96,169.95 435.29,169.95 435.63,169.95 435.96,169.95 436.30,169.95 436.63,169.95 436.96,169.95 437.30,169.95 437.63,169.95 437.97,169.95 438.30,169.95 438.64,169.95 438.97,169.95 439.31,169.95 439.64,169.95 439.97,169.95 440.31,169.95 440.64,169.96 440.98,169.96 441.31,169.96 441.65,169.96 441.98,169.96 442.32,169.96 442.65,169.96 442.98,169.96 443.32,169.96 443.65,169.96 443.99,169.96 444.32,169.96 444.66,169.96 444.99,169.96 445.33,169.96 445.66,169.96 445.99,169.96 446.33,169.96 446.66,169.96 447.00,169.96 447.33,169.96 447.67,169.96 448.00,169.96 448.34,169.96 448.67,169.96 449.00,169.96 449.34,169.96 449.67,169.96 450.01,169.96 450.34,169.96 450.68,169.96 451.01,169.96 451.35,169.96 451.68,169.96 452.01,169.96 452.35,169.96 452.68,169.96 453.02,169.96 453.35,169.96 453.69,169.96 454.02,169.96 454.36,169.96 454.69,169.96 455.02,169.96 455.36,169.96 455.69,169.96 456.03,169.96 456.36,169.96 456.70,169.96 457.03,169.96 457.37,169.96 457.70,169.96 458.03,169.96 458.37,169.96 458.70,169.96 459.04,169.96 459.37,169.96 459.71,169.96 460.04,169.96 460.38,169.96 460.71,169.96 461.05,169.96 461.38,169.96 461.71,169.96 462.05,169.96 462.38,169.96 462.72,169.96 463.05,169.96 463.39,169.96 463.72,169.96 464.06,169.96 464.39,169.96 464.72,169.96 465.06,169.96 465.39,169.96 465.73,169.96 466.06,169.96 466.40,169.96 466.73,169.96 467.07,169.96 467.40,169.96 467.73,169.96 468.07,169.96 468.40,169.96 468.74,169.96 469.07,169.96 469.41,169.96 469.74,169.96 470.08,169.96 470.41,169.96 470.74,169.96 471.08,169.96 471.41,169.96 471.75,169.96 472.08,169.96 472.42,169.96 472.75,169.96 473.09,169.96 473.42,169.96 473.75,169.96 474.09,169.96 474.42,169.96 474.76,169.96 475.09,169.96 475.43,169.96 475.76,169.96 476.10,169.96 476.43,169.96 476.76,169.96 477.10,169.96 477.43,169.96 477.77,169.96 478.10,169.96 478.44,169.96 478.77,169.96 479.11,169.96 479.44,169.96 479.77,169.96 480.11,169.96 480.44,169.96 480.78,169.96 481.11,169.96 481.45,169.96 481.78,169.96 482.12,169.96 482.45,169.96 482.78,169.96 483.12,169.96 483.45,169.96 483.79,169.96 484.12,169.96 484.46,169.96 484.79,169.96 485.13,169.96 485.46,169.96 485.79,169.96 486.13,169.96 486.46,169.96 486.80,169.96 487.13,169.96 487.47,169.96 487.80,169.96 488.14,169.96 488.47,169.96 488.80,169.96 489.14,169.96 489.47,169.96 489.81,169.96 490.14,169.96 490.48,169.96 490.81,169.96 491.15,169.96 491.48,169.96 491.81,169.96 492.15,169.96 492.48,169.96 492.82,169.96 493.15,169.96 493.49,169.96 493.82,169.96 494.16,169.96 494.49,169.96 494.82,169.96 495.16,169.96 495.49,169.96 495.83,169.96 496.16,169.96 496.50,169.96 496.83,169.96 497.17,169.96 497.50,169.96 497.83,169.96 498.17,169.96 498.50,169.96 498.84,169.96 499.17,169.96 499.51,169.96 499.84,169.96 500.18,169.96 500.51,169.96 500.85,169.96 501.18,169.96 501.51,169.96 501.85,169.96 502.18,169.96 502.52,169.96 502.85,169.96 503.19,169.96 503.52,169.96 503.86,169.96 504.19,169.96 504.52,169.96 504.86,169.96 505.19,169.96 505.53,169.96 505.86,169.96 506.20,169.96 506.53,169.96 506.87,169.96 507.20,169.96 507.53,169.96 507.87,169.96 508.20,169.96 508.54,169.96 508.87,169.96 509.21,169.96 509.54,169.96 509.88,169.96 510.21,169.96 510.54,169.96 510.88,169.96 511.21,169.96 511.55,169.96 511.88,169.96 512.22,169.96 512.55,169.96 512.89,169.96 513.22,169.96 513.55,169.96 513.89,169.96 514.22,169.96 514.56,169.96 514.89,169.96 515.23,169.96 515.56,169.96 515.90,169.96 516.23,169.96 516.56,169.96 516.90,169.96 517.23,169.96 517.57,169.96 517.90,169.96 518.24,169.96 518.57,169.96 518.91,169.96 519.24,169.96 519.57,169.96 519.91,169.96 520.24,169.96 520.58,169.96 520.91,169.96 521.25,169.96 521.58,169.96 521.92,169.96 522.25,169.96" fill="none" stroke="#3434ff" stroke-width="1.0" stroke-linejoin="round"/>
<rect x="308.2" y="89.75" width="214.05" height="87.50" fill="none" stroke="#2a2a2a" stroke-width="1.0"/>
<text x="306.00" y="174.11" font-size="12.7" text-anchor="end" stroke="#000" stroke-width="0.2">0.0</text>
<text x="306.00" y="159.53" font-size="12.7" text-anchor="end" stroke="#000" stroke-width="0.2">0.2</text>
<text x="306.00" y="144.94" font-size="12.7" text-anchor="end" stroke="#000" stroke-width="0.2">0.4</text>
<text x="306.00" y="130.36" font-size="12.7" text-anchor="end" stroke="#000" stroke-width="0.2">0.6</text>
<text x="306.00" y="115.78" font-size="12.7" text-anchor="end" stroke="#000" stroke-width="0.2">0.8</text>
<text x="306.00" y="101.19" font-size="12.7" text-anchor="end" stroke="#000" stroke-width="0.2">1.0</text>
<path d="M308.20,169.96h2.3M522.25,169.96h-2.3M308.20,162.67h1.4M522.25,162.67h-1.4M308.20,155.38h2.3M522.25,155.38h-2.3M308.20,148.08h1.4M522.25,148.08h-1.4M308.20,140.79h2.3M522.25,140.79h-2.3M308.20,133.50h1.4M522.25,133.50h-1.4M308.20,126.21h2.3M522.25,126.21h-2.3M308.20,118.92h1.4M522.25,118.92h-1.4M308.20,111.63h2.3M522.25,111.63h-2.3M308.20,104.33h1.4M522.25,104.33h-1.4M308.20,97.04h2.3M522.25,97.04h-2.3M308.20,177.25v-2.3M308.20,89.75v2.3M321.58,177.25v-1.4M321.58,89.75v1.4M334.96,177.25v-2.3M334.96,89.75v2.3M348.33,177.25v-1.4M348.33,89.75v1.4M361.71,177.25v-2.3M361.71,89.75v2.3M375.09,177.25v-1.4M375.09,89.75v1.4M388.47,177.25v-2.3M388.47,89.75v2.3M401.85,177.25v-1.4M401.85,89.75v1.4M415.23,177.25v-2.3M415.23,89.75v2.3M428.60,177.25v-1.4M428.60,89.75v1.4M441.98,177.25v-2.3M441.98,89.75v2.3M455.36,177.25v-1.4M455.36,89.75v1.4M468.74,177.25v-2.3M468.74,89.75v2.3M482.12,177.25v-1.4M482.12,89.75v1.4M495.49,177.25v-2.3M495.49,89.75v2.3M508.87,177.25v-1.4M508.87,89.75v1.4M522.25,177.25v-2.3M522.25,89.75v2.3" stroke="#2a2a2a" stroke-width="0.9" fill="none"/>
<text x="344.00" y="101.90" font-size="9.4" stroke="#000" stroke-width="0.2">273 nm</text>
<rect x="436.7" y="93.3" width="81.20" height="28.60" fill="#fff" stroke="#c4c4c4" stroke-width="0.9"/>
<path d="M436.7,93.3V121.9H517.9" fill="none" stroke="#999" stroke-width="0.9"/>
<line x1="437.80" y1="98.30" x2="454.60" y2="98.30" stroke="#333333" stroke-width="1.1"/>
<text x="456.20" y="101.50" font-size="7.35" stroke="#000" stroke-width="0.22">AlN LED at 5.0 mA</text>
<line x1="437.80" y1="107.40" x2="454.60" y2="107.40" stroke="#ff6666" stroke-width="1.1"/>
<text x="456.20" y="110.80" font-size="7.35" stroke="#000" stroke-width="0.22">AlN LED at 3.5 mA</text>
<line x1="437.80" y1="116.60" x2="454.60" y2="116.60" stroke="#7777ff" stroke-width="1.4"/>
<text x="456.20" y="120.10" font-size="7.35" stroke="#000" stroke-width="0.22">AlN LED at 2.0 mA</text>
<text x="398.90" y="146.40" font-size="9.5" stroke="#000" stroke-width="0.2">After FZP fabrication</text>
<text transform="translate(282.60,133.50) rotate(-90)" x="0" y="0" font-size="12.7" text-anchor="middle" stroke="#000" stroke-width="0.25">Intensity (a.u.)</text>
<text x="308.20" y="189.60" font-size="12.7" text-anchor="middle" stroke="#000" stroke-width="0.2">220</text>
<text x="334.96" y="189.60" font-size="12.7" text-anchor="middle" stroke="#000" stroke-width="0.2">240</text>
<text x="361.71" y="189.60" font-size="12.7" text-anchor="middle" stroke="#000" stroke-width="0.2">260</text>
<text x="388.47" y="189.60" font-size="12.7" text-anchor="middle" stroke="#000" stroke-width="0.2">280</text>
<text x="415.23" y="189.60" font-size="12.7" text-anchor="middle" stroke="#000" stroke-width="0.2">300</text>
<text x="441.98" y="189.60" font-size="12.7" text-anchor="middle" stroke="#000" stroke-width="0.2">320</text>
<text x="468.74" y="189.60" font-size="12.7" text-anchor="middle" stroke="#000" stroke-width="0.2">340</text>
<text x="495.49" y="189.60" font-size="12.7" text-anchor="middle" stroke="#000" stroke-width="0.2">360</text>
<text x="522.25" y="189.60" font-size="12.7" text-anchor="middle" stroke="#000" stroke-width="0.2">380</text>
<text x="416.00" y="210.20" font-size="12.7" text-anchor="middle" stroke="#000" stroke-width="0.25">Wavelength (nm)</text>
<text x="404.60" y="235.40" font-size="21.5" text-anchor="middle" stroke="#000" stroke-width="0.25">(b)</text>
</g></svg>
</body></html>
